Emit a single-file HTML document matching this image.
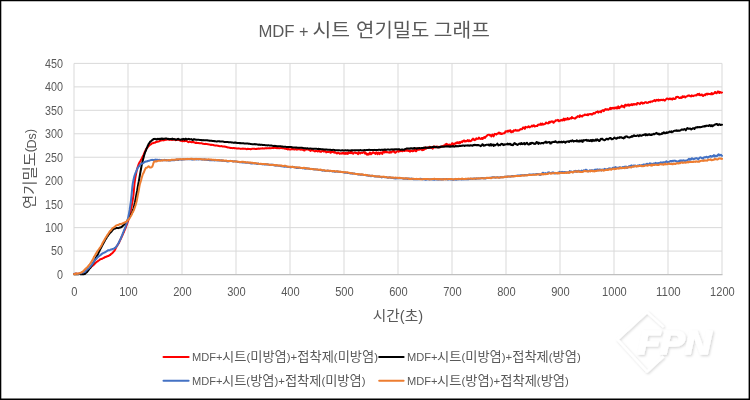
<!DOCTYPE html>
<html lang="ko">
<head>
<meta charset="utf-8">
<title>MDF + 시트 연기밀도 그래프</title>
<style>html,body{margin:0;padding:0;background:#fff;}body{width:750px;height:400px;overflow:hidden;}svg{display:block;will-change:transform;}</style>
</head>
<body>
<svg width="750" height="400" viewBox="0 0 750 400" font-family="'Liberation Sans', 'Noto Sans CJK KR', sans-serif" fill="#595959">
<defs><filter id="ws" x="-20%" y="-20%" width="140%" height="140%"><feDropShadow dx="1.2" dy="1.3" stdDeviation="1.15" flood-color="#000" flood-opacity="0.17"/></filter></defs>
<rect x="0" y="0" width="750" height="400" fill="#fff"/>
<path d="M74.0 251.09H722.0M74.0 227.63H722.0M74.0 204.17H722.0M74.0 180.71H722.0M74.0 157.24H722.0M74.0 133.78H722.0M74.0 110.32H722.0M74.0 86.86H722.0M74.0 63.40H722.0M74.00 63.4V274.55M128.00 63.4V274.55M182.00 63.4V274.55M236.00 63.4V274.55M290.00 63.4V274.55M344.00 63.4V274.55M398.00 63.4V274.55M452.00 63.4V274.55M506.00 63.4V274.55M560.00 63.4V274.55M614.00 63.4V274.55M668.00 63.4V274.55M722.00 63.4V274.55" stroke="#d9d9d9" stroke-width="1" fill="none"/>
<path d="M73.5 274.55H722.5" stroke="#bfbfbf" stroke-width="1.3" fill="none"/>
<g filter="url(#ws)" fill="#fff" stroke="#fff" stroke-linejoin="round"><path d="M663.5 327 L647 312.2 L617.4 339.4 L647 371.6 L663.5 356.5" fill="none" stroke-width="2.3"/><text x="637.5" y="354.2" font-size="34" font-weight="bold" font-style="italic" stroke-width="1.5" textLength="74" lengthAdjust="spacingAndGlyphs">FPN</text></g>
<text x="63" y="278.9" font-size="12" text-anchor="end" textLength="6.0" lengthAdjust="spacingAndGlyphs">0</text>
<text x="63" y="255.4" font-size="12" text-anchor="end" textLength="12.0" lengthAdjust="spacingAndGlyphs">50</text>
<text x="63" y="231.9" font-size="12" text-anchor="end" textLength="18.0" lengthAdjust="spacingAndGlyphs">100</text>
<text x="63" y="208.5" font-size="12" text-anchor="end" textLength="18.0" lengthAdjust="spacingAndGlyphs">150</text>
<text x="63" y="185.0" font-size="12" text-anchor="end" textLength="18.0" lengthAdjust="spacingAndGlyphs">200</text>
<text x="63" y="161.5" font-size="12" text-anchor="end" textLength="18.0" lengthAdjust="spacingAndGlyphs">250</text>
<text x="63" y="138.1" font-size="12" text-anchor="end" textLength="18.0" lengthAdjust="spacingAndGlyphs">300</text>
<text x="63" y="114.6" font-size="12" text-anchor="end" textLength="18.0" lengthAdjust="spacingAndGlyphs">350</text>
<text x="63" y="91.2" font-size="12" text-anchor="end" textLength="18.0" lengthAdjust="spacingAndGlyphs">400</text>
<text x="63" y="67.7" font-size="12" text-anchor="end" textLength="18.0" lengthAdjust="spacingAndGlyphs">450</text>
<text x="74.4" y="295.8" font-size="12" text-anchor="middle" textLength="6.2" lengthAdjust="spacingAndGlyphs">0</text>
<text x="128.4" y="295.8" font-size="12" text-anchor="middle" textLength="18.5" lengthAdjust="spacingAndGlyphs">100</text>
<text x="182.4" y="295.8" font-size="12" text-anchor="middle" textLength="18.5" lengthAdjust="spacingAndGlyphs">200</text>
<text x="236.4" y="295.8" font-size="12" text-anchor="middle" textLength="18.5" lengthAdjust="spacingAndGlyphs">300</text>
<text x="290.4" y="295.8" font-size="12" text-anchor="middle" textLength="18.5" lengthAdjust="spacingAndGlyphs">400</text>
<text x="344.4" y="295.8" font-size="12" text-anchor="middle" textLength="18.5" lengthAdjust="spacingAndGlyphs">500</text>
<text x="398.4" y="295.8" font-size="12" text-anchor="middle" textLength="18.5" lengthAdjust="spacingAndGlyphs">600</text>
<text x="452.4" y="295.8" font-size="12" text-anchor="middle" textLength="18.5" lengthAdjust="spacingAndGlyphs">700</text>
<text x="506.4" y="295.8" font-size="12" text-anchor="middle" textLength="18.5" lengthAdjust="spacingAndGlyphs">800</text>
<text x="560.4" y="295.8" font-size="12" text-anchor="middle" textLength="18.5" lengthAdjust="spacingAndGlyphs">900</text>
<text x="614.4" y="295.8" font-size="12" text-anchor="middle" textLength="24.6" lengthAdjust="spacingAndGlyphs">1000</text>
<text x="668.4" y="295.8" font-size="12" text-anchor="middle" textLength="24.6" lengthAdjust="spacingAndGlyphs">1100</text>
<text x="722.4" y="295.8" font-size="12" text-anchor="middle" textLength="24.6" lengthAdjust="spacingAndGlyphs">1200</text>
<text y="37.3"><tspan x="258.38" y="37.30" font-size="17.3" textLength="36.18" lengthAdjust="spacingAndGlyphs">MDF</tspan><tspan x="299.01" y="37.30" font-size="17.3" textLength="9.51" lengthAdjust="spacingAndGlyphs">+</tspan><tspan x="312.53" y="37.30" font-size="19" textLength="37.59" lengthAdjust="spacingAndGlyphs">시트</tspan><tspan x="356.04" y="37.30" font-size="19" textLength="73.40" lengthAdjust="spacingAndGlyphs">연기밀도</tspan><tspan x="433.83" y="37.30" font-size="19" textLength="56.07" lengthAdjust="spacingAndGlyphs">그래프</tspan></text>
<text y="320.6"><tspan x="372.82" y="320.60" font-size="14.3" textLength="50.33" lengthAdjust="spacingAndGlyphs">시간(초)</tspan></text>
<text y="0" transform="translate(35.7 207.6) rotate(-90)"><tspan x="-1.29" y="-1.00" font-size="14.3" textLength="56.69" lengthAdjust="spacingAndGlyphs">연기밀도</tspan><tspan x="55.17" y="-1.70" font-size="13" textLength="4.83" lengthAdjust="spacingAndGlyphs">(</tspan><tspan x="59.02" y="0.10" font-size="13.2" textLength="15.38" lengthAdjust="spacingAndGlyphs">Ds</tspan><tspan x="74.52" y="-1.70" font-size="13" textLength="3.97" lengthAdjust="spacingAndGlyphs">)</tspan></text>
<text y="360.5"><tspan x="191.91" y="360.50" font-size="10.6" textLength="30.53" lengthAdjust="spacingAndGlyphs">MDF+</tspan><tspan x="222.08" y="360.50" font-size="13" textLength="155.95" lengthAdjust="spacingAndGlyphs">시트<tspan font-size="11.2">(</tspan>미방염<tspan font-size="11.2">)+</tspan>접착제<tspan font-size="11.2">(</tspan>미방염<tspan font-size="11.2">)</tspan></tspan></text>
<text y="360.5"><tspan x="406.94" y="360.50" font-size="10.6" textLength="30.53" lengthAdjust="spacingAndGlyphs">MDF+</tspan><tspan x="437.11" y="360.50" font-size="13" textLength="143.65" lengthAdjust="spacingAndGlyphs">시트<tspan font-size="11.2">(</tspan>미방염<tspan font-size="11.2">)+</tspan>접착제<tspan font-size="11.2">(</tspan>방염<tspan font-size="11.2">)</tspan></tspan></text>
<text y="384.5"><tspan x="191.91" y="384.50" font-size="10.6" textLength="30.53" lengthAdjust="spacingAndGlyphs">MDF+</tspan><tspan x="222.08" y="384.50" font-size="13" textLength="143.37" lengthAdjust="spacingAndGlyphs">시트<tspan font-size="11.2">(</tspan>방염<tspan font-size="11.2">)+</tspan>접착제<tspan font-size="11.2">(</tspan>미방염<tspan font-size="11.2">)</tspan></tspan></text>
<text y="384.5"><tspan x="406.94" y="384.50" font-size="10.6" textLength="30.53" lengthAdjust="spacingAndGlyphs">MDF+</tspan><tspan x="437.11" y="384.50" font-size="13" textLength="131.77" lengthAdjust="spacingAndGlyphs">시트<tspan font-size="11.2">(</tspan>방염<tspan font-size="11.2">)+</tspan>접착제<tspan font-size="11.2">(</tspan>방염<tspan font-size="11.2">)</tspan></tspan></text>
<path d="M74.00 274.00L74.54 273.95L75.08 273.90L75.62 273.60L76.16 273.77L76.70 273.83L77.24 273.81L77.78 273.94L78.32 274.00L78.86 273.78L79.40 273.70L79.94 273.72L80.48 273.90L81.02 273.95L81.56 273.66L82.10 273.54L82.64 273.71L83.18 273.79L83.72 273.40L84.26 272.92L84.80 272.76L85.34 272.22L85.88 271.87L86.42 271.57L86.96 271.01L87.50 270.38L88.04 269.91L88.58 269.21L89.12 268.70L89.66 268.17L90.20 267.76L90.74 267.28L91.28 266.84L91.82 266.34L92.36 265.91L92.90 265.43L93.44 264.96L93.98 264.65L94.52 263.76L95.06 263.55L95.60 262.94L96.14 262.26L96.68 261.88L97.22 261.53L97.76 261.32L98.30 260.70L98.84 260.43L99.38 260.11L99.92 259.50L100.46 259.14L101.00 259.09L101.54 258.93L102.08 258.77L102.62 258.45L103.16 258.15L103.70 257.83L104.24 257.72L104.78 257.24L105.32 257.02L105.86 256.91L106.40 256.43L106.94 256.57L107.48 256.16L108.02 255.94L108.56 256.05L109.10 255.45L109.64 255.04L110.18 255.00L110.72 254.33L111.26 253.89L111.80 253.54L112.34 253.05L112.88 252.50L113.42 251.85L113.96 251.32L114.50 250.60L115.04 249.73L115.58 248.62L116.12 247.59L116.66 246.42L117.20 245.81L117.74 244.61L118.28 243.95L118.82 243.24L119.36 241.86L119.90 240.68L120.44 239.55L120.98 238.60L121.52 237.24L122.06 236.08L122.60 234.81L123.14 233.58L123.68 232.59L124.22 231.08L124.76 229.84L125.30 228.57L125.84 227.32L126.38 225.60L126.92 224.35L127.46 222.78L128.00 221.23L128.54 219.41L129.08 217.26L129.62 215.29L130.16 213.38L130.70 210.89L131.24 208.14L131.78 205.51L132.32 202.61L132.86 199.21L133.40 195.62L133.94 189.90L134.48 183.98L135.02 179.83L135.56 176.52L136.10 173.69L136.64 171.13L137.18 168.79L137.72 166.97L138.26 165.37L138.80 163.75L139.34 162.75L139.88 161.79L140.42 161.13L140.96 159.86L141.50 158.93L142.04 157.84L142.58 156.74L143.12 155.85L143.66 154.56L144.20 153.18L144.74 152.02L145.28 151.00L145.82 149.73L146.36 148.81L146.90 148.33L147.44 147.71L147.98 146.96L148.52 146.25L149.06 145.71L149.60 144.99L150.14 144.84L150.68 144.48L151.22 144.10L151.76 143.50L152.30 143.21L152.84 143.21L153.38 143.05L153.92 142.73L154.46 142.68L155.00 142.66L155.54 142.25L156.08 142.01L156.62 141.76L157.16 141.51L157.70 141.69L158.24 141.63L158.78 141.48L159.32 141.01L159.86 140.72L160.40 140.69L160.94 140.50L161.48 140.43L162.02 140.15L162.56 140.21L163.10 140.38L163.64 140.35L164.18 140.26L164.72 139.94L165.26 139.92L165.80 139.66L166.34 139.81L166.88 139.62L167.42 139.52L167.96 139.46L168.50 139.70L169.04 139.73L169.58 139.74L170.12 139.50L170.66 139.65L171.20 139.42L171.74 139.91L172.28 139.83L172.82 139.87L173.36 139.85L173.90 139.57L174.44 139.50L174.98 139.75L175.52 140.18L176.06 139.88L176.60 139.85L177.14 139.99L177.68 139.76L178.22 139.71L178.76 139.95L179.30 140.17L179.84 140.25L180.38 140.70L180.92 140.62L181.46 140.73L182.00 141.07L182.54 141.28L183.08 140.80L183.62 140.86L184.16 141.24L184.70 140.97L185.24 140.98L185.78 140.97L186.32 141.00L186.86 141.10L187.40 141.46L187.94 141.88L188.48 142.16L189.02 142.04L189.56 141.63L190.10 141.86L190.64 141.95L191.18 142.16L191.72 142.20L192.26 141.93L192.80 142.28L193.34 141.99L193.88 142.16L194.42 142.48L194.96 142.66L195.50 143.02L196.04 142.44L196.58 142.75L197.12 142.99L197.66 142.94L198.20 143.14L198.74 142.93L199.28 143.21L199.82 143.35L200.36 143.20L200.90 143.23L201.44 143.34L201.98 143.37L202.52 143.63L203.06 143.68L203.60 143.88L204.14 143.99L204.68 143.94L205.22 143.92L205.76 143.86L206.30 143.89L206.84 143.95L207.38 144.15L207.92 144.14L208.46 144.29L209.00 144.41L209.54 144.42L210.08 144.51L210.62 144.80L211.16 144.99L211.70 144.82L212.24 144.86L212.78 144.89L213.32 144.97L213.86 145.27L214.40 145.34L214.94 145.49L215.48 145.65L216.02 145.51L216.56 145.51L217.10 145.59L217.64 145.79L218.18 145.78L218.72 145.92L219.26 146.08L219.80 146.20L220.34 146.21L220.88 146.11L221.42 146.01L221.96 146.35L222.50 146.47L223.04 146.41L223.58 146.48L224.12 146.57L224.66 146.52L225.20 146.78L225.74 146.83L226.28 146.96L226.82 147.20L227.36 147.26L227.90 147.42L228.44 147.52L228.98 147.57L229.52 147.64L230.06 147.95L230.60 147.87L231.14 148.11L231.68 147.94L232.22 148.11L232.76 148.15L233.30 148.09L233.84 147.90L234.38 148.30L234.92 148.19L235.46 148.18L236.00 148.34L236.54 148.41L237.08 148.50L237.62 148.49L238.16 148.34L238.70 148.59L239.24 148.50L239.78 148.62L240.32 148.74L240.86 148.88L241.40 148.79L241.94 148.75L242.48 148.75L243.02 148.57L243.56 148.64L244.10 148.65L244.64 148.64L245.18 148.82L245.72 148.85L246.26 149.11L246.80 149.22L247.34 148.85L247.88 148.94L248.42 148.85L248.96 149.00L249.50 149.02L250.04 149.13L250.58 149.09L251.12 149.13L251.66 149.01L252.20 148.67L252.74 148.67L253.28 148.70L253.82 148.75L254.36 148.69L254.90 148.99L255.44 148.88L255.98 149.00L256.52 148.83L257.06 148.99L257.60 148.68L258.14 148.75L258.68 148.53L259.22 148.63L259.76 148.80L260.30 148.46L260.84 148.39L261.38 148.48L261.92 148.45L262.46 148.28L263.00 148.50L263.54 148.45L264.08 148.57L264.62 148.50L265.16 148.26L265.70 148.23L266.24 148.44L266.78 148.17L267.32 148.15L267.86 148.26L268.40 148.35L268.94 148.35L269.48 148.06L270.02 148.35L270.56 148.20L271.10 148.14L271.64 148.10L272.18 148.04L272.72 147.92L273.26 147.94L273.80 148.14L274.34 147.90L274.88 147.70L275.42 147.91L275.96 148.00L276.50 148.09L277.04 148.27L277.58 148.05L278.12 148.08L278.66 148.14L279.20 148.28L279.74 148.34L280.28 148.15L280.82 148.02L281.36 148.12L281.90 148.03L282.44 148.35L282.98 148.34L283.52 148.36L284.06 148.33L284.60 148.65L285.14 148.85L285.68 148.60L286.22 148.89L286.76 148.79L287.30 149.03L287.84 149.43L288.38 149.05L288.92 149.19L289.46 149.26L290.00 149.56L290.54 149.51L291.08 149.30L291.62 148.98L292.16 149.20L292.70 148.82L293.24 149.31L293.78 149.33L294.32 149.54L294.86 149.26L295.40 149.04L295.94 148.93L296.48 149.65L297.02 149.51L297.56 149.46L298.10 148.87L298.64 149.28L299.18 148.73L299.72 149.55L300.26 149.58L300.80 149.71L301.34 149.25L301.88 149.18L302.42 149.81L302.96 149.81L303.50 150.08L304.04 150.53L304.58 150.53L305.12 149.59L305.66 149.53L306.20 149.46L306.74 149.54L307.28 149.31L307.82 149.34L308.36 149.46L308.90 149.74L309.44 150.30L309.98 150.26L310.52 150.92L311.06 150.02L311.60 149.80L312.14 150.33L312.68 150.40L313.22 150.18L313.76 150.76L314.30 151.17L314.84 151.45L315.38 150.96L315.92 150.91L316.46 151.00L317.00 151.00L317.54 151.38L318.08 151.01L318.62 151.19L319.16 150.32L319.70 151.07L320.24 151.76L320.78 151.48L321.32 151.77L321.86 150.92L322.40 151.05L322.94 150.69L323.48 151.25L324.02 151.60L324.56 151.08L325.10 151.06L325.64 151.18L326.18 152.39L326.72 152.02L327.26 151.95L327.80 152.03L328.34 152.07L328.88 151.91L329.42 151.46L329.96 151.52L330.50 152.72L331.04 152.56L331.58 152.11L332.12 151.30L332.66 151.80L333.20 152.11L333.74 151.84L334.28 152.74L334.82 152.22L335.36 152.29L335.90 153.00L336.44 152.95L336.98 153.54L337.52 152.96L338.06 152.60L338.60 153.04L339.14 153.10L339.68 153.77L340.22 153.60L340.76 153.27L341.30 153.44L341.84 153.67L342.38 152.65L342.92 152.83L343.46 152.80L344.00 153.78L344.54 153.15L345.08 153.86L345.62 152.69L346.16 152.93L346.70 153.76L347.24 153.28L347.78 153.97L348.32 152.23L348.86 152.77L349.40 153.09L349.94 153.04L350.48 152.13L351.02 153.11L351.56 151.62L352.10 153.05L352.64 153.26L353.18 153.80L353.72 153.24L354.26 152.43L354.80 152.44L355.34 152.47L355.88 153.17L356.42 152.89L356.96 153.23L357.50 153.42L358.04 154.11L358.58 152.22L359.12 152.39L359.66 153.17L360.20 153.52L360.74 152.88L361.28 152.78L361.82 152.85L362.36 153.02L362.90 152.66L363.44 152.44L363.98 152.04L364.52 152.33L365.06 153.60L365.60 152.67L366.14 153.48L366.68 154.48L367.22 153.81L367.76 154.58L368.30 153.78L368.84 154.44L369.38 153.63L369.92 152.53L370.46 153.03L371.00 154.24L371.54 153.19L372.08 153.40L372.62 152.54L373.16 152.21L373.70 152.92L374.24 152.81L374.78 153.23L375.32 153.87L375.86 152.56L376.40 152.27L376.94 152.59L377.48 154.18L378.02 153.18L378.56 152.61L379.10 152.92L379.64 154.12L380.18 152.90L380.72 152.51L381.26 152.54L381.80 152.98L382.34 153.97L382.88 152.34L383.42 151.26L383.96 151.92L384.50 152.44L385.04 150.87L385.58 151.17L386.12 152.29L386.66 151.82L387.20 152.22L387.74 152.18L388.28 152.44L388.82 152.39L389.36 152.23L389.90 152.76L390.44 151.82L390.98 151.80L391.52 152.42L392.06 151.58L392.60 151.30L393.14 150.90L393.68 150.58L394.22 152.32L394.76 152.07L395.30 152.78L395.84 152.44L396.38 151.81L396.92 151.27L397.46 151.36L398.00 151.19L398.54 151.70L399.08 150.77L399.62 151.00L400.16 151.27L400.70 150.94L401.24 150.76L401.78 151.17L402.32 151.35L402.86 150.98L403.40 150.86L403.94 150.44L404.48 150.95L405.02 150.73L405.56 149.68L406.10 150.00L406.64 150.72L407.18 150.82L407.72 150.09L408.26 150.79L408.80 151.00L409.34 151.08L409.88 151.69L410.42 150.75L410.96 150.91L411.50 150.41L412.04 150.96L412.58 151.31L413.12 151.01L413.66 151.02L414.20 150.00L414.74 150.44L415.28 149.45L415.82 151.14L416.36 151.22L416.90 149.51L417.44 148.24L417.98 149.82L418.52 149.23L419.06 149.83L419.60 148.89L420.14 149.32L420.68 149.01L421.22 149.63L421.76 149.27L422.30 150.23L422.84 149.18L423.38 149.96L423.92 149.43L424.46 149.48L425.00 148.09L425.54 147.30L426.08 148.69L426.62 147.80L427.16 147.90L427.70 147.90L428.24 147.47L428.78 147.93L429.32 147.04L429.86 146.72L430.40 147.88L430.94 147.23L431.48 147.88L432.02 148.07L432.56 148.66L433.10 148.19L433.64 146.46L434.18 146.40L434.72 146.49L435.26 147.54L435.80 147.41L436.34 146.78L436.88 147.06L437.42 146.63L437.96 146.98L438.50 146.85L439.04 147.36L439.58 147.05L440.12 147.16L440.66 146.64L441.20 146.75L441.74 146.27L442.28 146.44L442.82 146.23L443.36 145.88L443.90 145.50L444.44 145.35L444.98 145.63L445.52 144.17L446.06 145.40L446.60 143.89L447.14 144.36L447.68 144.43L448.22 144.98L448.76 144.89L449.30 144.63L449.84 144.53L450.38 144.89L450.92 145.58L451.46 145.01L452.00 143.27L452.54 143.33L453.08 143.76L453.62 145.04L454.16 143.97L454.70 143.44L455.24 143.66L455.78 143.57L456.32 142.55L456.86 143.30L457.40 142.32L457.94 142.41L458.48 143.27L459.02 142.13L459.56 142.11L460.10 143.15L460.64 142.49L461.18 141.70L461.72 141.55L462.26 142.20L462.80 141.11L463.34 141.08L463.88 140.55L464.42 140.41L464.96 141.65L465.50 141.39L466.04 141.01L466.58 141.26L467.12 140.68L467.66 140.09L468.20 141.06L468.74 141.29L469.28 140.38L469.82 140.76L470.36 141.29L470.90 140.93L471.44 140.71L471.98 139.58L472.52 139.62L473.06 138.61L473.60 139.75L474.14 139.48L474.68 140.12L475.22 139.18L475.76 139.60L476.30 138.35L476.84 138.38L477.38 138.85L477.92 138.89L478.46 138.61L479.00 137.53L479.54 138.62L480.08 138.68L480.62 138.90L481.16 138.92L481.70 138.02L482.24 137.98L482.78 138.89L483.32 137.66L483.86 137.61L484.40 136.98L484.94 137.92L485.48 137.39L486.02 136.40L486.56 136.13L487.10 135.49L487.64 135.02L488.18 134.89L488.72 134.77L489.26 134.73L489.80 135.39L490.34 135.08L490.88 135.45L491.42 136.42L491.96 135.14L492.50 134.48L493.04 135.34L493.58 136.39L494.12 135.04L494.66 133.89L495.20 134.09L495.74 134.05L496.28 134.59L496.82 133.77L497.36 133.78L497.90 133.69L498.44 132.88L498.98 132.44L499.52 133.31L500.06 133.69L500.60 133.04L501.14 134.01L501.68 134.02L502.22 133.70L502.76 133.56L503.30 133.29L503.84 133.31L504.38 133.33L504.92 132.82L505.46 131.34L506.00 131.66L506.54 131.36L507.08 130.96L507.62 131.71L508.16 130.65L508.70 131.57L509.24 131.08L509.78 130.47L510.32 130.32L510.86 131.99L511.40 132.19L511.94 131.22L512.48 131.47L513.02 131.92L513.56 130.56L514.10 130.21L514.64 130.66L515.18 130.51L515.72 129.93L516.26 130.74L516.80 130.40L517.34 130.34L517.88 130.83L518.42 130.38L518.96 130.59L519.50 130.16L520.04 129.37L520.58 129.11L521.12 129.36L521.66 129.28L522.20 129.02L522.74 127.79L523.28 127.40L523.82 127.63L524.36 128.23L524.90 128.85L525.44 126.89L525.98 127.22L526.52 127.13L527.06 127.22L527.60 127.39L528.14 126.80L528.68 126.21L529.22 127.20L529.76 127.44L530.30 126.83L530.84 126.66L531.38 126.20L531.92 125.53L532.46 126.33L533.00 125.88L533.54 125.37L534.08 125.37L534.62 126.57L535.16 126.38L535.70 126.11L536.24 125.85L536.78 126.11L537.32 126.09L537.86 124.87L538.40 124.86L538.94 124.56L539.48 124.85L540.02 124.77L540.56 123.57L541.10 124.75L541.64 124.72L542.18 123.52L542.72 124.54L543.26 124.36L543.80 124.42L544.34 124.13L544.88 124.01L545.42 123.52L545.96 122.58L546.50 122.69L547.04 123.13L547.58 123.18L548.12 123.49L548.66 123.14L549.20 121.71L549.74 122.68L550.28 122.19L550.82 121.60L551.36 121.85L551.90 121.31L552.44 121.98L552.98 121.49L553.52 122.82L554.06 122.12L554.60 121.57L555.14 121.21L555.68 120.26L556.22 120.31L556.76 120.39L557.30 120.60L557.84 119.81L558.38 120.32L558.92 121.29L559.46 120.70L560.00 120.58L560.54 120.73L561.08 120.04L561.62 119.87L562.16 120.51L562.70 120.30L563.24 119.34L563.78 118.53L564.32 120.39L564.86 120.12L565.40 118.79L565.94 119.10L566.48 119.47L567.02 119.25L567.56 117.96L568.10 119.39L568.64 119.28L569.18 118.72L569.72 118.89L570.26 118.38L570.80 118.03L571.34 118.49L571.88 117.01L572.42 117.96L572.96 117.98L573.50 118.12L574.04 118.20L574.58 118.54L575.12 118.56L575.66 118.19L576.20 117.24L576.74 117.35L577.28 116.68L577.82 116.04L578.36 116.49L578.90 116.57L579.44 117.01L579.98 115.27L580.52 115.96L581.06 116.26L581.60 116.01L582.14 116.61L582.68 115.48L583.22 115.60L583.76 115.18L584.30 115.14L584.84 114.51L585.38 114.64L585.92 115.08L586.46 114.91L587.00 114.89L587.54 114.20L588.08 115.14L588.62 114.22L589.16 114.14L589.70 114.35L590.24 113.95L590.78 114.23L591.32 113.97L591.86 114.64L592.40 114.22L592.94 113.88L593.48 112.97L594.02 113.21L594.56 113.55L595.10 113.30L595.64 112.36L596.18 112.07L596.72 112.05L597.26 112.10L597.80 111.26L598.34 112.64L598.88 112.07L599.42 111.86L599.96 111.38L600.50 111.31L601.04 112.30L601.58 111.07L602.12 110.68L602.66 110.14L603.20 110.09L603.74 111.15L604.28 110.35L604.82 110.00L605.36 109.01L605.90 109.30L606.44 109.68L606.98 109.37L607.52 109.21L608.06 109.73L608.60 109.73L609.14 109.31L609.68 108.66L610.22 107.89L610.76 109.25L611.30 107.99L611.84 108.58L612.38 108.31L612.92 107.82L613.46 108.43L614.00 107.74L614.54 108.48L615.08 107.48L615.62 107.81L616.16 108.34L616.70 107.27L617.24 108.44L617.78 108.21L618.32 106.34L618.86 107.45L619.40 108.18L619.94 107.25L620.48 106.81L621.02 106.87L621.56 105.58L622.10 106.09L622.64 106.70L623.18 106.09L623.72 106.69L624.26 107.38L624.80 105.52L625.34 104.65L625.88 104.82L626.42 105.59L626.96 105.74L627.50 105.04L628.04 104.54L628.58 104.49L629.12 105.77L629.66 104.82L630.20 104.54L630.74 105.22L631.28 104.79L631.82 104.14L632.36 105.15L632.90 104.94L633.44 104.22L633.98 104.02L634.52 104.61L635.06 104.10L635.60 104.16L636.14 104.50L636.68 104.65L637.22 103.09L637.76 103.09L638.30 103.13L638.84 103.34L639.38 103.75L639.92 104.11L640.46 103.32L641.00 102.55L641.54 102.88L642.08 102.54L642.62 103.63L643.16 103.31L643.70 102.95L644.24 103.26L644.78 102.43L645.32 102.19L645.86 102.12L646.40 102.50L646.94 102.99L647.48 102.88L648.02 102.76L648.56 102.11L649.10 102.11L649.64 101.73L650.18 102.28L650.72 101.49L651.26 101.40L651.80 101.48L652.34 101.78L652.88 101.03L653.42 100.92L653.96 100.50L654.50 99.98L655.04 101.05L655.58 101.14L656.12 100.05L656.66 99.80L657.20 100.50L657.74 100.13L658.28 99.67L658.82 100.70L659.36 100.15L659.90 99.93L660.44 100.30L660.98 99.72L661.52 99.83L662.06 99.91L662.60 100.23L663.14 99.50L663.68 100.15L664.22 99.98L664.76 100.68L665.30 100.07L665.84 99.34L666.38 98.97L666.92 98.43L667.46 98.77L668.00 98.84L668.54 99.37L669.08 99.11L669.62 98.44L670.16 99.14L670.70 98.60L671.24 98.70L671.78 99.37L672.32 99.52L672.86 98.44L673.40 98.25L673.94 98.93L674.48 99.00L675.02 98.74L675.56 98.78L676.10 97.06L676.64 97.28L677.18 96.70L677.72 96.85L678.26 97.01L678.80 97.52L679.34 98.10L679.88 98.10L680.42 97.78L680.96 97.24L681.50 97.87L682.04 97.55L682.58 96.23L683.12 96.55L683.66 96.97L684.20 96.30L684.74 96.62L685.28 97.45L685.82 96.80L686.36 96.58L686.90 96.45L687.44 95.84L687.98 95.81L688.52 95.46L689.06 95.66L689.60 95.44L690.14 96.28L690.68 96.03L691.22 96.42L691.76 95.39L692.30 95.58L692.84 95.97L693.38 96.18L693.92 95.50L694.46 95.46L695.00 95.52L695.54 95.27L696.08 95.08L696.62 95.49L697.16 94.69L697.70 93.94L698.24 94.32L698.78 94.89L699.32 93.76L699.86 95.13L700.40 95.05L700.94 95.25L701.48 94.52L702.02 94.60L702.56 95.64L703.10 96.07L703.64 95.59L704.18 94.81L704.72 94.53L705.26 95.16L705.80 94.28L706.34 93.72L706.88 93.88L707.42 94.50L707.96 93.63L708.50 94.00L709.04 94.14L709.58 94.04L710.12 93.79L710.66 94.25L711.20 94.22L711.74 93.03L712.28 94.17L712.82 94.01L713.36 93.82L713.90 93.31L714.44 93.09L714.98 91.92L715.52 92.32L716.06 93.02L716.60 93.31L717.14 92.67L717.68 91.58L718.22 91.51L718.76 91.95L719.30 93.01L719.84 91.82L720.38 92.17L720.92 92.61L721.46 92.78L722.00 92.43" stroke="#ff0000" stroke-width="2" fill="none" stroke-linejoin="round" stroke-linecap="round"/>
<path d="M74.00 274.20L74.54 273.96L75.08 274.27L75.62 274.19L76.16 274.11L76.70 273.99L77.24 274.24L77.78 274.02L78.32 274.20L78.86 274.08L79.40 274.12L79.94 274.08L80.48 274.19L81.02 274.26L81.56 273.99L82.10 274.20L82.64 274.23L83.18 274.28L83.72 274.37L84.26 273.89L84.80 274.06L85.34 273.36L85.88 272.91L86.42 272.53L86.96 272.12L87.50 271.47L88.04 270.74L88.58 270.03L89.12 269.04L89.66 268.39L90.20 268.13L90.74 266.79L91.28 266.09L91.82 265.31L92.36 264.33L92.90 263.49L93.44 262.61L93.98 261.60L94.52 260.62L95.06 259.44L95.60 258.61L96.14 257.46L96.68 256.29L97.22 255.72L97.76 254.47L98.30 253.36L98.84 252.02L99.38 251.18L99.92 249.94L100.46 248.81L101.00 247.92L101.54 246.89L102.08 245.64L102.62 244.75L103.16 243.81L103.70 242.78L104.24 241.66L104.78 240.87L105.32 239.69L105.86 238.97L106.40 238.10L106.94 237.04L107.48 236.14L108.02 235.88L108.56 234.63L109.10 234.03L109.64 233.34L110.18 232.83L110.72 232.24L111.26 231.72L111.80 231.12L112.34 230.42L112.88 229.60L113.42 229.17L113.96 228.93L114.50 228.69L115.04 228.62L115.58 228.34L116.12 228.01L116.66 227.93L117.20 228.00L117.74 228.11L118.28 228.13L118.82 228.06L119.36 227.65L119.90 227.51L120.44 227.50L120.98 227.30L121.52 227.10L122.06 226.46L122.60 226.22L123.14 225.34L123.68 224.99L124.22 224.65L124.76 224.13L125.30 223.78L125.84 223.05L126.38 222.31L126.92 221.60L127.46 220.53L128.00 219.92L128.54 218.78L129.08 217.95L129.62 217.02L130.16 216.00L130.70 215.08L131.24 214.12L131.78 212.91L132.32 212.08L132.86 210.37L133.40 208.75L133.94 206.88L134.48 204.54L135.02 202.15L135.56 199.05L136.10 196.12L136.64 193.20L137.18 190.41L137.72 187.13L138.26 184.09L138.80 181.39L139.34 178.31L139.88 175.21L140.42 172.06L140.96 169.26L141.50 166.09L142.04 163.61L142.58 161.38L143.12 159.35L143.66 157.34L144.20 155.08L144.74 153.49L145.28 151.78L145.82 150.83L146.36 149.21L146.90 147.99L147.44 146.51L147.98 145.28L148.52 144.09L149.06 143.36L149.60 142.73L150.14 141.69L150.68 141.34L151.22 140.95L151.76 140.68L152.30 139.85L152.84 139.87L153.38 139.06L153.92 139.07L154.46 138.90L155.00 138.85L155.54 139.19L156.08 139.17L156.62 139.47L157.16 139.24L157.70 138.80L158.24 139.11L158.78 138.99L159.32 138.73L159.86 139.08L160.40 139.27L160.94 138.56L161.48 138.54L162.02 138.94L162.56 138.60L163.10 139.10L163.64 138.84L164.18 138.87L164.72 138.82L165.26 138.46L165.80 138.55L166.34 138.46L166.88 138.50L167.42 138.94L167.96 139.03L168.50 138.85L169.04 138.92L169.58 139.30L170.12 139.07L170.66 138.88L171.20 139.12L171.74 138.89L172.28 138.63L172.82 139.36L173.36 138.90L173.90 139.06L174.44 139.22L174.98 139.11L175.52 139.67L176.06 139.78L176.60 139.68L177.14 139.04L177.68 139.29L178.22 138.83L178.76 139.26L179.30 139.54L179.84 139.53L180.38 139.79L180.92 139.61L181.46 139.23L182.00 139.19L182.54 139.58L183.08 138.86L183.62 139.19L184.16 138.92L184.70 139.77L185.24 139.10L185.78 138.64L186.32 139.22L186.86 139.49L187.40 139.16L187.94 139.16L188.48 138.83L189.02 139.00L189.56 139.36L190.10 139.37L190.64 139.28L191.18 139.10L191.72 139.51L192.26 139.91L192.80 140.01L193.34 139.33L193.88 139.46L194.42 139.26L194.96 139.33L195.50 139.57L196.04 139.81L196.58 139.79L197.12 139.76L197.66 139.72L198.20 139.83L198.74 139.69L199.28 139.87L199.82 139.99L200.36 139.89L200.90 140.10L201.44 140.22L201.98 140.10L202.52 140.19L203.06 140.13L203.60 140.11L204.14 140.26L204.68 140.31L205.22 140.20L205.76 140.16L206.30 140.32L206.84 140.26L207.38 140.28L207.92 140.40L208.46 140.46L209.00 140.59L209.54 140.83L210.08 140.65L210.62 140.86L211.16 140.71L211.70 140.80L212.24 140.96L212.78 141.12L213.32 140.92L213.86 141.15L214.40 141.11L214.94 141.14L215.48 141.21L216.02 141.39L216.56 141.44L217.10 141.46L217.64 141.35L218.18 141.31L218.72 141.18L219.26 141.22L219.80 141.49L220.34 141.38L220.88 141.39L221.42 141.49L221.96 141.54L222.50 141.57L223.04 141.60L223.58 141.67L224.12 141.92L224.66 141.99L225.20 141.99L225.74 141.94L226.28 142.01L226.82 142.09L227.36 142.04L227.90 142.02L228.44 142.16L228.98 142.16L229.52 142.17L230.06 142.27L230.60 142.34L231.14 142.31L231.68 142.56L232.22 142.57L232.76 142.56L233.30 142.66L233.84 142.79L234.38 142.75L234.92 142.51L235.46 142.56L236.00 142.70L236.54 142.81L237.08 143.01L237.62 143.03L238.16 143.00L238.70 143.11L239.24 143.04L239.78 143.19L240.32 143.04L240.86 143.29L241.40 143.26L241.94 143.37L242.48 143.34L243.02 143.24L243.56 143.33L244.10 143.42L244.64 143.50L245.18 143.55L245.72 143.62L246.26 143.58L246.80 143.49L247.34 143.58L247.88 143.56L248.42 143.68L248.96 143.75L249.50 143.84L250.04 143.85L250.58 143.98L251.12 144.06L251.66 144.13L252.20 144.16L252.74 144.23L253.28 144.30L253.82 144.27L254.36 144.08L254.90 144.16L255.44 144.42L255.98 144.22L256.52 144.36L257.06 144.38L257.60 144.60L258.14 144.63L258.68 144.60L259.22 144.64L259.76 144.52L260.30 144.83L260.84 144.88L261.38 144.77L261.92 144.78L262.46 144.91L263.00 144.88L263.54 144.88L264.08 145.05L264.62 145.07L265.16 145.15L265.70 145.25L266.24 145.17L266.78 145.37L267.32 145.43L267.86 145.30L268.40 145.24L268.94 145.37L269.48 145.47L270.02 145.44L270.56 145.50L271.10 145.55L271.64 145.59L272.18 145.70L272.72 145.88L273.26 145.98L273.80 145.86L274.34 145.88L274.88 145.86L275.42 145.93L275.96 145.95L276.50 146.15L277.04 146.23L277.58 146.14L278.12 146.31L278.66 146.22L279.20 146.28L279.74 146.37L280.28 146.35L280.82 146.33L281.36 146.45L281.90 146.56L282.44 146.56L282.98 146.75L283.52 146.76L284.06 146.68L284.60 146.78L285.14 146.76L285.68 146.84L286.22 146.92L286.76 146.96L287.30 147.10L287.84 147.06L288.38 147.09L288.92 147.06L289.46 146.95L290.00 147.01L290.54 147.12L291.08 146.96L291.62 147.16L292.16 147.28L292.70 147.42L293.24 147.44L293.78 147.53L294.32 147.50L294.86 147.46L295.40 147.56L295.94 147.48L296.48 147.68L297.02 147.56L297.56 147.77L298.10 147.70L298.64 147.70L299.18 147.66L299.72 147.74L300.26 147.83L300.80 147.75L301.34 147.70L301.88 147.86L302.42 147.82L302.96 148.01L303.50 148.17L304.04 148.11L304.58 148.37L305.12 148.31L305.66 148.18L306.20 148.41L306.74 148.41L307.28 148.33L307.82 148.36L308.36 148.53L308.90 148.64L309.44 148.56L309.98 148.45L310.52 148.47L311.06 148.61L311.60 148.63L312.14 148.69L312.68 148.73L313.22 148.88L313.76 148.79L314.30 148.79L314.84 148.63L315.38 148.75L315.92 148.68L316.46 148.75L317.00 148.88L317.54 148.89L318.08 148.96L318.62 148.82L319.16 148.93L319.70 149.05L320.24 149.11L320.78 149.20L321.32 149.15L321.86 149.28L322.40 149.24L322.94 149.27L323.48 149.42L324.02 149.54L324.56 149.57L325.10 149.42L325.64 149.45L326.18 149.46L326.72 149.54L327.26 149.74L327.80 149.80L328.34 149.64L328.88 149.72L329.42 149.77L329.96 149.73L330.50 149.76L331.04 149.93L331.58 149.90L332.12 149.91L332.66 149.90L333.20 149.75L333.74 149.87L334.28 150.06L334.82 150.26L335.36 150.31L335.90 150.17L336.44 150.17L336.98 150.14L337.52 150.21L338.06 150.14L338.60 150.23L339.14 150.32L339.68 150.37L340.22 150.38L340.76 150.45L341.30 150.38L341.84 150.33L342.38 150.35L342.92 150.34L343.46 150.41L344.00 150.50L344.54 150.44L345.08 150.27L345.62 150.19L346.16 150.35L346.70 150.43L347.24 150.47L347.78 150.19L348.32 150.38L348.86 150.61L349.40 150.50L349.94 150.42L350.48 150.50L351.02 150.36L351.56 150.27L352.10 150.43L352.64 150.30L353.18 150.38L353.72 150.31L354.26 150.29L354.80 150.22L355.34 150.31L355.88 150.30L356.42 150.28L356.96 150.24L357.50 150.20L358.04 150.33L358.58 150.35L359.12 150.37L359.66 150.18L360.20 150.23L360.74 150.06L361.28 150.27L361.82 150.38L362.36 150.38L362.90 150.30L363.44 150.26L363.98 150.17L364.52 150.06L365.06 150.16L365.60 150.21L366.14 150.10L366.68 149.95L367.22 149.95L367.76 149.96L368.30 149.93L368.84 149.81L369.38 149.79L369.92 149.90L370.46 150.11L371.00 149.90L371.54 149.94L372.08 149.92L372.62 149.96L373.16 149.95L373.70 150.03L374.24 149.97L374.78 149.87L375.32 149.90L375.86 149.90L376.40 149.96L376.94 149.96L377.48 149.95L378.02 149.89L378.56 149.84L379.10 149.81L379.64 149.83L380.18 149.93L380.72 149.99L381.26 149.82L381.80 149.78L382.34 149.77L382.88 149.93L383.42 149.75L383.96 149.75L384.50 149.53L385.04 149.66L385.58 149.60L386.12 149.65L386.66 149.75L387.20 149.59L387.74 149.45L388.28 149.58L388.82 149.55L389.36 149.64L389.90 149.76L390.44 149.58L390.98 149.46L391.52 149.44L392.06 149.35L392.60 149.38L393.14 149.56L393.68 149.46L394.22 149.34L394.76 149.46L395.30 149.51L395.84 149.29L396.38 149.37L396.92 149.35L397.46 149.41L398.00 149.32L398.54 149.30L399.08 149.22L399.62 149.48L400.16 149.65L400.70 149.65L401.24 149.63L401.78 149.44L402.32 149.67L402.86 149.55L403.40 149.80L403.94 149.77L404.48 149.74L405.02 149.04L405.56 148.87L406.10 148.80L406.64 148.47L407.18 148.56L407.72 148.59L408.26 148.40L408.80 148.82L409.34 148.61L409.88 148.69L410.42 148.25L410.96 148.39L411.50 148.28L412.04 148.21L412.58 148.65L413.12 148.64L413.66 148.23L414.20 148.05L414.74 148.42L415.28 148.14L415.82 148.15L416.36 148.57L416.90 148.70L417.44 148.41L417.98 148.24L418.52 148.22L419.06 148.08L419.60 148.06L420.14 148.36L420.68 148.25L421.22 148.15L421.76 147.97L422.30 148.18L422.84 147.88L423.38 147.98L423.92 147.59L424.46 147.60L425.00 147.76L425.54 147.57L426.08 147.70L426.62 147.70L427.16 147.53L427.70 147.75L428.24 147.72L428.78 147.51L429.32 147.56L429.86 147.76L430.40 147.33L430.94 147.06L431.48 147.49L432.02 147.16L432.56 147.10L433.10 146.68L433.64 146.90L434.18 147.15L434.72 146.79L435.26 147.10L435.80 146.78L436.34 146.86L436.88 147.30L437.42 147.60L437.96 147.25L438.50 147.47L439.04 147.03L439.58 147.24L440.12 146.64L440.66 146.91L441.20 146.82L441.74 146.55L442.28 146.64L442.82 146.62L443.36 146.65L443.90 146.86L444.44 146.56L444.98 146.41L445.52 146.51L446.06 146.40L446.60 146.47L447.14 146.16L447.68 146.55L448.22 146.23L448.76 146.58L449.30 146.70L449.84 146.32L450.38 146.50L450.92 146.76L451.46 146.42L452.00 146.44L452.54 146.07L453.08 146.42L453.62 146.33L454.16 146.65L454.70 146.60L455.24 146.32L455.78 145.94L456.32 146.23L456.86 146.41L457.40 146.09L457.94 146.28L458.48 146.21L459.02 145.98L459.56 145.73L460.10 145.79L460.64 146.08L461.18 145.69L461.72 145.72L462.26 145.72L462.80 145.55L463.34 145.39L463.88 145.68L464.42 145.97L464.96 145.73L465.50 145.38L466.04 145.52L466.58 145.47L467.12 145.59L467.66 145.27L468.20 145.62L468.74 145.41L469.28 145.73L469.82 145.56L470.36 145.35L470.90 145.32L471.44 145.50L471.98 145.56L472.52 145.71L473.06 145.16L473.60 145.08L474.14 145.15L474.68 144.72L475.22 144.91L475.76 145.24L476.30 145.08L476.84 145.17L477.38 145.06L477.92 145.14L478.46 144.91L479.00 145.35L479.54 145.50L480.08 145.51L480.62 146.13L481.16 145.81L481.70 145.40L482.24 144.37L482.78 144.34L483.32 145.07L483.86 145.79L484.40 145.19L484.94 145.52L485.48 144.97L486.02 144.90L486.56 144.71L487.10 144.73L487.64 144.68L488.18 145.00L488.72 144.48L489.26 145.48L489.80 145.51L490.34 144.37L490.88 144.02L491.42 145.51L491.96 144.72L492.50 145.07L493.04 144.52L493.58 145.98L494.12 144.70L494.66 145.53L495.20 145.33L495.74 144.86L496.28 144.66L496.82 144.29L497.36 143.64L497.90 144.45L498.44 145.45L498.98 144.89L499.52 144.97L500.06 145.19L500.60 144.23L501.14 144.21L501.68 143.70L502.22 144.46L502.76 144.03L503.30 144.95L503.84 145.12L504.38 144.35L504.92 144.61L505.46 144.61L506.00 144.23L506.54 144.24L507.08 144.35L507.62 143.53L508.16 144.50L508.70 144.10L509.24 143.84L509.78 144.35L510.32 143.85L510.86 144.78L511.40 144.98L511.94 144.56L512.48 144.98L513.02 145.22L513.56 144.47L514.10 143.45L514.64 143.11L515.18 143.34L515.72 144.11L516.26 144.37L516.80 144.17L517.34 145.01L517.88 144.38L518.42 144.49L518.96 143.70L519.50 143.55L520.04 143.79L520.58 144.31L521.12 143.04L521.66 144.08L522.20 143.45L522.74 144.11L523.28 143.84L523.82 143.17L524.36 143.08L524.90 144.35L525.44 143.91L525.98 143.55L526.52 142.91L527.06 142.79L527.60 143.79L528.14 144.34L528.68 144.56L529.22 144.30L529.76 143.64L530.30 143.02L530.84 143.87L531.38 143.38L531.92 142.75L532.46 142.91L533.00 143.06L533.54 143.68L534.08 143.36L534.62 143.89L535.16 143.88L535.70 143.57L536.24 142.28L536.78 142.00L537.32 142.50L537.86 143.12L538.40 143.85L538.94 142.61L539.48 143.12L540.02 143.30L540.56 143.55L541.10 143.29L541.64 142.98L542.18 142.90L542.72 143.03L543.26 143.42L543.80 142.68L544.34 142.48L544.88 142.23L545.42 142.50L545.96 141.57L546.50 142.72L547.04 142.71L547.58 142.16L548.12 142.26L548.66 142.22L549.20 142.06L549.74 142.21L550.28 143.49L550.82 143.54L551.36 142.25L551.90 142.36L552.44 142.46L552.98 141.80L553.52 141.89L554.06 141.90L554.60 142.02L555.14 141.34L555.68 141.21L556.22 142.09L556.76 142.37L557.30 142.53L557.84 142.57L558.38 141.78L558.92 142.17L559.46 141.88L560.00 142.31L560.54 141.96L561.08 142.17L561.62 141.61L562.16 142.35L562.70 141.99L563.24 142.00L563.78 141.44L564.32 142.21L564.86 142.33L565.40 142.66L565.94 141.67L566.48 141.89L567.02 141.68L567.56 141.46L568.10 141.67L568.64 141.37L569.18 141.97L569.72 141.12L570.26 140.86L570.80 140.75L571.34 141.37L571.88 140.87L572.42 140.30L572.96 140.92L573.50 141.58L574.04 141.01L574.58 141.19L575.12 140.90L575.66 141.08L576.20 141.24L576.74 140.22L577.28 141.40L577.82 141.06L578.36 141.41L578.90 141.50L579.44 140.65L579.98 141.46L580.52 140.90L581.06 140.39L581.60 140.82L582.14 141.77L582.68 141.89L583.22 140.13L583.76 140.24L584.30 140.49L584.84 140.31L585.38 140.02L585.92 140.03L586.46 139.79L587.00 140.86L587.54 140.72L588.08 140.08L588.62 140.34L589.16 141.04L589.70 140.49L590.24 140.92L590.78 140.00L591.32 139.98L591.86 141.34L592.40 140.76L592.94 139.86L593.48 140.72L594.02 140.30L594.56 140.69L595.10 140.33L595.64 139.47L596.18 140.59L596.72 140.25L597.26 139.38L597.80 140.27L598.34 140.13L598.88 141.03L599.42 140.93L599.96 140.44L600.50 139.28L601.04 138.73L601.58 139.13L602.12 138.64L602.66 139.17L603.20 139.81L603.74 139.80L604.28 140.23L604.82 140.16L605.36 139.86L605.90 139.30L606.44 138.84L606.98 138.81L607.52 138.91L608.06 139.51L608.60 139.03L609.14 138.49L609.68 138.16L610.22 137.95L610.76 137.90L611.30 139.17L611.84 139.33L612.38 138.95L612.92 138.91L613.46 138.48L614.00 137.92L614.54 137.47L615.08 137.95L615.62 138.40L616.16 138.77L616.70 138.10L617.24 138.29L617.78 137.56L618.32 137.86L618.86 137.69L619.40 137.91L619.94 137.06L620.48 137.42L621.02 137.47L621.56 137.30L622.10 137.88L622.64 137.90L623.18 137.97L623.72 138.35L624.26 137.35L624.80 137.68L625.34 136.58L625.88 136.81L626.42 136.40L626.96 136.36L627.50 136.89L628.04 137.35L628.58 137.35L629.12 137.51L629.66 137.49L630.20 136.99L630.74 137.06L631.28 136.69L631.82 136.14L632.36 136.77L632.90 136.40L633.44 135.58L633.98 135.25L634.52 135.90L635.06 135.98L635.60 135.85L636.14 136.05L636.68 135.80L637.22 135.61L637.76 135.17L638.30 135.64L638.84 136.25L639.38 135.46L639.92 135.12L640.46 135.55L641.00 135.72L641.54 135.81L642.08 135.22L642.62 135.25L643.16 134.89L643.70 135.09L644.24 134.47L644.78 134.82L645.32 134.17L645.86 135.38L646.40 134.31L646.94 134.52L647.48 135.11L648.02 134.70L648.56 134.82L649.10 134.09L649.64 134.62L650.18 134.99L650.72 135.09L651.26 134.41L651.80 134.88L652.34 134.59L652.88 134.29L653.42 133.80L653.96 134.19L654.50 134.22L655.04 133.73L655.58 133.36L656.12 133.54L656.66 132.92L657.20 133.69L657.74 133.97L658.28 134.17L658.82 133.57L659.36 134.52L659.90 134.14L660.44 134.32L660.98 134.04L661.52 134.03L662.06 133.17L662.60 133.70L663.14 133.09L663.68 132.30L664.22 132.53L664.76 133.32L665.30 133.34L665.84 133.09L666.38 132.32L666.92 132.92L667.46 132.79L668.00 132.18L668.54 132.51L669.08 132.07L669.62 131.62L670.16 131.88L670.70 132.01L671.24 131.36L671.78 132.32L672.32 131.63L672.86 131.73L673.40 131.26L673.94 130.95L674.48 130.88L675.02 130.58L675.56 130.66L676.10 130.87L676.64 130.20L677.18 130.67L677.72 130.88L678.26 130.49L678.80 130.65L679.34 130.62L679.88 130.76L680.42 130.44L680.96 129.97L681.50 129.61L682.04 129.59L682.58 129.57L683.12 129.89L683.66 129.35L684.20 129.13L684.74 129.06L685.28 129.81L685.82 130.36L686.36 129.38L686.90 128.58L687.44 128.10L687.98 128.51L688.52 128.74L689.06 128.81L689.60 128.56L690.14 128.59L690.68 128.69L691.22 129.52L691.76 128.94L692.30 128.81L692.84 128.22L693.38 128.18L693.92 128.16L694.46 129.03L695.00 127.98L695.54 127.69L696.08 127.27L696.62 127.56L697.16 127.53L697.70 126.94L698.24 127.21L698.78 127.29L699.32 127.20L699.86 126.95L700.40 127.27L700.94 127.11L701.48 127.00L702.02 126.89L702.56 126.50L703.10 126.46L703.64 126.48L704.18 126.14L704.72 126.54L705.26 125.85L705.80 126.30L706.34 125.92L706.88 125.61L707.42 125.74L707.96 125.67L708.50 126.04L709.04 125.42L709.58 125.04L710.12 125.34L710.66 126.12L711.20 125.18L711.74 125.71L712.28 126.34L712.82 125.42L713.36 125.72L713.90 125.23L714.44 124.78L714.98 124.59L715.52 124.45L716.06 124.07L716.60 124.24L717.14 124.03L717.68 124.99L718.22 125.14L718.76 124.52L719.30 124.19L719.84 124.44L720.38 124.98L720.92 124.89L721.46 124.63L722.00 124.70" stroke="#000000" stroke-width="2" fill="none" stroke-linejoin="round" stroke-linecap="round"/>
<path d="M74.00 274.00L74.54 273.74L75.08 273.61L75.62 273.69L76.16 273.76L76.70 273.84L77.24 273.77L77.78 274.05L78.32 273.79L78.86 273.71L79.40 273.52L79.94 273.31L80.48 273.26L81.02 273.35L81.56 272.98L82.10 272.58L82.64 272.49L83.18 272.59L83.72 272.17L84.26 272.01L84.80 271.92L85.34 271.50L85.88 270.63L86.42 270.35L86.96 269.80L87.50 269.33L88.04 268.67L88.58 268.32L89.12 267.96L89.66 267.30L90.20 266.56L90.74 265.89L91.28 265.65L91.82 264.80L92.36 263.89L92.90 263.27L93.44 262.29L93.98 261.48L94.52 260.58L95.06 260.04L95.60 259.41L96.14 259.07L96.68 258.39L97.22 257.74L97.76 257.09L98.30 256.81L98.84 256.24L99.38 255.85L99.92 255.37L100.46 255.28L101.00 254.61L101.54 254.01L102.08 253.80L102.62 253.45L103.16 253.07L103.70 252.91L104.24 252.63L104.78 252.30L105.32 252.20L105.86 251.60L106.40 251.47L106.94 251.01L107.48 250.86L108.02 250.20L108.56 250.12L109.10 250.19L109.64 250.19L110.18 249.93L110.72 249.54L111.26 249.59L111.80 249.62L112.34 248.98L112.88 248.90L113.42 248.82L113.96 248.64L114.50 248.08L115.04 247.93L115.58 247.51L116.12 246.84L116.66 246.24L117.20 245.45L117.74 244.33L118.28 243.58L118.82 242.27L119.36 241.65L119.90 240.22L120.44 239.32L120.98 237.81L121.52 236.68L122.06 235.49L122.60 233.97L123.14 232.78L123.68 231.24L124.22 229.89L124.76 228.63L125.30 227.24L125.84 225.80L126.38 224.22L126.92 222.67L127.46 220.68L128.00 218.26L128.54 215.68L129.08 212.91L129.62 209.96L130.16 206.33L130.70 202.61L131.24 198.11L131.78 192.49L132.32 186.95L132.86 182.86L133.40 180.21L133.94 177.86L134.48 175.88L135.02 174.23L135.56 173.02L136.10 171.70L136.64 170.25L137.18 169.33L137.72 167.92L138.26 167.01L138.80 166.56L139.34 165.88L139.88 164.82L140.42 164.38L140.96 163.93L141.50 163.83L142.04 163.51L142.58 163.37L143.12 163.05L143.66 162.76L144.20 162.23L144.74 161.97L145.28 161.75L145.82 161.40L146.36 161.59L146.90 161.43L147.44 160.90L147.98 161.05L148.52 160.75L149.06 160.82L149.60 160.58L150.14 160.33L150.68 160.16L151.22 159.98L151.76 159.99L152.30 159.83L152.84 160.06L153.38 159.91L153.92 159.93L154.46 160.03L155.00 159.76L155.54 159.57L156.08 160.11L156.62 159.70L157.16 159.69L157.70 159.94L158.24 160.04L158.78 159.95L159.32 159.76L159.86 160.13L160.40 160.19L160.94 160.10L161.48 160.06L162.02 160.24L162.56 160.39L163.10 160.26L163.64 160.19L164.18 160.29L164.72 159.77L165.26 160.28L165.80 160.00L166.34 160.06L166.88 160.23L167.42 160.18L167.96 160.41L168.50 160.63L169.04 160.42L169.58 160.43L170.12 160.41L170.66 160.51L171.20 160.33L171.74 160.22L172.28 160.13L172.82 160.15L173.36 160.31L173.90 159.98L174.44 160.16L174.98 160.05L175.52 159.96L176.06 159.62L176.60 159.60L177.14 159.94L177.68 159.77L178.22 160.06L178.76 159.71L179.30 159.46L179.84 159.62L180.38 159.43L180.92 159.60L181.46 159.76L182.00 159.70L182.54 159.58L183.08 159.32L183.62 159.46L184.16 159.50L184.70 159.36L185.24 159.30L185.78 159.18L186.32 159.27L186.86 159.26L187.40 159.20L187.94 159.29L188.48 159.35L189.02 159.33L189.56 159.27L190.10 159.19L190.64 159.35L191.18 159.28L191.72 159.44L192.26 159.42L192.80 159.63L193.34 159.41L193.88 159.31L194.42 159.37L194.96 159.38L195.50 159.33L196.04 159.33L196.58 159.45L197.12 159.39L197.66 159.12L198.20 159.10L198.74 159.53L199.28 159.34L199.82 159.35L200.36 159.34L200.90 159.34L201.44 159.40L201.98 159.64L202.52 159.57L203.06 159.47L203.60 159.52L204.14 159.64L204.68 159.32L205.22 159.77L205.76 159.46L206.30 159.61L206.84 159.90L207.38 159.95L207.92 160.04L208.46 160.01L209.00 159.83L209.54 160.22L210.08 160.26L210.62 160.30L211.16 160.23L211.70 160.16L212.24 160.14L212.78 160.14L213.32 160.35L213.86 160.17L214.40 160.50L214.94 160.24L215.48 160.05L216.02 160.15L216.56 160.32L217.10 160.33L217.64 160.46L218.18 160.42L218.72 160.39L219.26 160.45L219.80 160.36L220.34 160.40L220.88 160.50L221.42 160.29L221.96 160.85L222.50 160.46L223.04 160.62L223.58 160.84L224.12 160.89L224.66 161.12L225.20 161.10L225.74 160.97L226.28 161.08L226.82 161.26L227.36 161.46L227.90 161.28L228.44 161.39L228.98 161.33L229.52 161.09L230.06 160.84L230.60 160.98L231.14 161.00L231.68 160.94L232.22 161.18L232.76 161.48L233.30 161.59L233.84 161.33L234.38 161.32L234.92 161.23L235.46 161.42L236.00 161.52L236.54 161.62L237.08 161.64L237.62 161.98L238.16 161.96L238.70 161.95L239.24 161.99L239.78 162.34L240.32 162.19L240.86 162.31L241.40 162.12L241.94 162.40L242.48 162.39L243.02 162.09L243.56 162.49L244.10 162.26L244.64 162.23L245.18 162.54L245.72 162.73L246.26 162.73L246.80 162.74L247.34 162.73L247.88 162.80L248.42 162.78L248.96 162.74L249.50 163.12L250.04 163.06L250.58 163.34L251.12 163.48L251.66 163.53L252.20 163.49L252.74 163.22L253.28 163.17L253.82 163.16L254.36 163.22L254.90 163.51L255.44 163.32L255.98 163.61L256.52 163.86L257.06 163.89L257.60 164.01L258.14 163.45L258.68 163.70L259.22 163.91L259.76 164.00L260.30 164.07L260.84 164.08L261.38 164.08L261.92 164.14L262.46 164.39L263.00 164.16L263.54 164.21L264.08 164.48L264.62 164.44L265.16 164.47L265.70 164.32L266.24 164.33L266.78 164.56L267.32 164.24L267.86 164.35L268.40 164.66L268.94 164.81L269.48 164.92L270.02 165.05L270.56 164.73L271.10 164.61L271.64 164.83L272.18 164.79L272.72 164.71L273.26 164.98L273.80 165.24L274.34 165.42L274.88 165.44L275.42 165.39L275.96 165.77L276.50 165.61L277.04 165.55L277.58 165.55L278.12 165.65L278.66 165.71L279.20 165.85L279.74 165.77L280.28 165.97L280.82 166.17L281.36 166.25L281.90 166.22L282.44 166.17L282.98 166.55L283.52 166.46L284.06 166.73L284.60 166.79L285.14 166.39L285.68 166.69L286.22 166.70L286.76 166.54L287.30 166.79L287.84 166.93L288.38 166.97L288.92 167.10L289.46 167.03L290.00 167.04L290.54 167.38L291.08 167.34L291.62 167.10L292.16 166.80L292.70 166.96L293.24 166.93L293.78 167.03L294.32 167.36L294.86 167.37L295.40 167.39L295.94 167.48L296.48 167.93L297.02 168.08L297.56 167.99L298.10 167.85L298.64 167.97L299.18 167.76L299.72 167.67L300.26 167.88L300.80 167.90L301.34 167.98L301.88 168.13L302.42 168.22L302.96 168.40L303.50 168.25L304.04 168.37L304.58 168.50L305.12 168.69L305.66 168.67L306.20 168.49L306.74 168.26L307.28 168.47L307.82 168.40L308.36 168.62L308.90 168.80L309.44 168.73L309.98 168.95L310.52 169.13L311.06 168.95L311.60 169.05L312.14 169.10L312.68 168.90L313.22 168.99L313.76 169.29L314.30 169.40L314.84 169.61L315.38 169.40L315.92 169.47L316.46 169.46L317.00 169.55L317.54 169.61L318.08 169.80L318.62 169.96L319.16 170.07L319.70 169.98L320.24 170.12L320.78 170.03L321.32 170.17L321.86 170.48L322.40 170.68L322.94 170.60L323.48 170.32L324.02 170.51L324.56 170.87L325.10 170.89L325.64 170.88L326.18 170.84L326.72 170.78L327.26 170.60L327.80 170.71L328.34 170.68L328.88 170.95L329.42 171.16L329.96 171.09L330.50 170.99L331.04 170.97L331.58 171.10L332.12 171.34L332.66 171.39L333.20 170.94L333.74 171.13L334.28 171.68L334.82 171.64L335.36 171.66L335.90 171.72L336.44 171.58L336.98 171.34L337.52 171.75L338.06 171.45L338.60 171.80L339.14 171.88L339.68 171.96L340.22 171.76L340.76 172.01L341.30 171.92L341.84 171.91L342.38 171.97L342.92 172.13L343.46 172.17L344.00 172.34L344.54 172.65L345.08 172.72L345.62 172.57L346.16 172.83L346.70 172.72L347.24 172.67L347.78 173.09L348.32 173.08L348.86 172.89L349.40 173.19L349.94 173.28L350.48 173.44L351.02 173.50L351.56 173.24L352.10 173.31L352.64 173.69L353.18 173.55L353.72 173.56L354.26 173.58L354.80 173.61L355.34 173.87L355.88 174.01L356.42 174.07L356.96 174.13L357.50 174.09L358.04 174.34L358.58 174.60L359.12 174.67L359.66 174.47L360.20 174.64L360.74 174.70L361.28 174.70L361.82 174.57L362.36 174.67L362.90 174.87L363.44 174.90L363.98 174.88L364.52 175.03L365.06 175.12L365.60 175.08L366.14 175.36L366.68 175.54L367.22 175.61L367.76 175.38L368.30 175.76L368.84 175.91L369.38 175.59L369.92 175.69L370.46 176.01L371.00 176.17L371.54 175.66L372.08 175.78L372.62 175.82L373.16 175.94L373.70 176.11L374.24 176.43L374.78 176.42L375.32 176.46L375.86 176.29L376.40 176.53L376.94 176.59L377.48 176.56L378.02 176.70L378.56 176.64L379.10 176.45L379.64 176.44L380.18 176.92L380.72 176.96L381.26 177.00L381.80 177.40L382.34 177.10L382.88 177.06L383.42 177.03L383.96 176.95L384.50 177.16L385.04 177.20L385.58 177.34L386.12 176.92L386.66 177.30L387.20 177.53L387.74 177.70L388.28 177.56L388.82 177.64L389.36 177.48L389.90 177.24L390.44 177.85L390.98 177.85L391.52 177.84L392.06 178.01L392.60 177.72L393.14 177.69L393.68 178.13L394.22 178.15L394.76 178.44L395.30 178.31L395.84 178.51L396.38 178.31L396.92 178.28L397.46 178.19L398.00 178.32L398.54 178.28L399.08 178.11L399.62 178.08L400.16 178.36L400.70 178.20L401.24 178.27L401.78 178.19L402.32 178.42L402.86 178.42L403.40 178.73L403.94 178.68L404.48 178.79L405.02 178.53L405.56 178.72L406.10 178.31L406.64 178.71L407.18 178.74L407.72 178.94L408.26 178.56L408.80 178.68L409.34 178.47L409.88 178.63L410.42 178.68L410.96 178.63L411.50 178.52L412.04 178.88L412.58 179.08L413.12 179.01L413.66 179.19L414.20 179.14L414.74 179.07L415.28 179.01L415.82 179.28L416.36 179.10L416.90 179.17L417.44 179.15L417.98 179.03L418.52 179.21L419.06 178.97L419.60 179.15L420.14 178.76L420.68 178.80L421.22 178.93L421.76 179.13L422.30 179.36L422.84 179.16L423.38 179.22L423.92 179.14L424.46 179.26L425.00 179.47L425.54 179.72L426.08 179.64L426.62 179.60L427.16 179.24L427.70 179.34L428.24 179.22L428.78 179.24L429.32 179.50L429.86 179.40L430.40 179.29L430.94 179.14L431.48 179.24L432.02 179.29L432.56 179.59L433.10 179.36L433.64 179.52L434.18 179.74L434.72 179.48L435.26 179.08L435.80 179.19L436.34 179.59L436.88 179.47L437.42 179.48L437.96 179.68L438.50 179.56L439.04 179.08L439.58 179.54L440.12 179.27L440.66 179.47L441.20 179.55L441.74 179.54L442.28 179.20L442.82 179.49L443.36 179.39L443.90 178.95L444.44 179.04L444.98 179.08L445.52 179.32L446.06 179.07L446.60 178.92L447.14 179.22L447.68 179.56L448.22 179.52L448.76 179.31L449.30 179.26L449.84 179.28L450.38 179.32L450.92 179.49L451.46 179.25L452.00 179.52L452.54 179.72L453.08 179.53L453.62 179.71L454.16 179.59L454.70 179.47L455.24 179.69L455.78 179.35L456.32 179.66L456.86 179.28L457.40 179.31L457.94 179.44L458.48 179.29L459.02 179.24L459.56 179.03L460.10 179.15L460.64 179.36L461.18 179.29L461.72 179.44L462.26 179.27L462.80 179.33L463.34 179.20L463.88 179.47L464.42 179.17L464.96 179.16L465.50 179.28L466.04 178.87L466.58 179.20L467.12 179.20L467.66 179.13L468.20 179.12L468.74 179.15L469.28 178.96L469.82 178.99L470.36 178.73L470.90 178.73L471.44 178.87L471.98 178.76L472.52 178.95L473.06 178.69L473.60 178.57L474.14 178.62L474.68 178.51L475.22 178.86L475.76 178.96L476.30 178.37L476.84 178.58L477.38 178.52L477.92 178.52L478.46 178.37L479.00 178.51L479.54 178.49L480.08 178.59L480.62 178.32L481.16 178.10L481.70 178.14L482.24 177.97L482.78 178.01L483.32 178.36L483.86 178.25L484.40 178.24L484.94 178.47L485.48 178.56L486.02 178.28L486.56 178.09L487.10 178.04L487.64 177.86L488.18 178.04L488.72 177.97L489.26 177.90L489.80 177.86L490.34 177.72L490.88 177.85L491.42 177.50L491.96 177.48L492.50 177.26L493.04 177.23L493.58 177.19L494.12 177.32L494.66 177.33L495.20 177.66L495.74 177.57L496.28 177.42L496.82 177.32L497.36 177.14L497.90 177.25L498.44 177.42L498.98 177.58L499.52 177.67L500.06 177.33L500.60 177.03L501.14 177.17L501.68 177.13L502.22 177.14L502.76 177.27L503.30 177.23L503.84 177.13L504.38 176.99L504.92 176.66L505.46 176.77L506.00 176.66L506.54 176.68L507.08 176.57L507.62 176.75L508.16 176.42L508.70 176.46L509.24 176.45L509.78 176.60L510.32 176.64L510.86 176.59L511.40 176.23L511.94 175.96L512.48 176.15L513.02 176.09L513.56 176.23L514.10 176.17L514.64 176.01L515.18 175.92L515.72 175.96L516.26 175.79L516.80 175.85L517.34 175.58L517.88 175.51L518.42 175.71L518.96 175.59L519.50 175.59L520.04 175.38L520.58 175.22L521.12 175.30L521.66 175.22L522.20 175.35L522.74 175.19L523.28 175.18L523.82 175.30L524.36 175.02L524.90 175.16L525.44 175.10L525.98 174.96L526.52 175.02L527.06 175.24L527.60 175.00L528.14 174.87L528.68 174.82L529.22 174.58L529.76 174.45L530.30 174.47L530.84 174.60L531.38 174.83L531.92 174.57L532.46 174.40L533.00 174.47L533.54 174.35L534.08 174.51L534.62 174.48L535.16 174.35L535.70 174.34L536.24 174.24L536.78 173.98L537.32 173.91L537.86 173.98L538.40 174.13L538.94 174.14L539.48 174.38L540.02 174.97L540.56 174.78L541.10 174.45L541.64 174.11L542.18 173.50L542.72 172.68L543.26 172.65L543.80 173.54L544.34 174.06L544.88 173.38L545.42 173.12L545.96 173.95L546.50 173.45L547.04 173.91L547.58 173.37L548.12 172.37L548.66 173.04L549.20 172.43L549.74 173.02L550.28 172.93L550.82 173.12L551.36 172.72L551.90 172.81L552.44 172.95L552.98 172.25L553.52 172.72L554.06 172.70L554.60 173.45L555.14 173.45L555.68 173.28L556.22 173.14L556.76 172.95L557.30 173.31L557.84 172.63L558.38 172.68L558.92 172.61L559.46 171.89L560.00 172.43L560.54 172.57L561.08 171.99L561.62 172.35L562.16 171.87L562.70 172.10L563.24 171.95L563.78 172.72L564.32 172.32L564.86 171.94L565.40 172.19L565.94 172.15L566.48 172.18L567.02 172.50L567.56 172.39L568.10 172.31L568.64 172.53L569.18 172.63L569.72 171.13L570.26 171.35L570.80 171.48L571.34 171.52L571.88 172.11L572.42 172.30L572.96 172.06L573.50 171.57L574.04 171.70L574.58 171.10L575.12 171.47L575.66 170.72L576.20 171.94L576.74 171.10L577.28 171.37L577.82 170.93L578.36 171.33L578.90 170.68L579.44 171.16L579.98 171.28L580.52 171.65L581.06 171.85L581.60 170.57L582.14 171.22L582.68 171.56L583.22 170.79L583.76 170.31L584.30 171.03L584.84 170.56L585.38 170.05L585.92 169.65L586.46 169.93L587.00 170.17L587.54 171.12L588.08 170.99L588.62 171.37L589.16 170.82L589.70 170.37L590.24 170.56L590.78 170.64L591.32 170.22L591.86 170.23L592.40 170.29L592.94 170.60L593.48 170.42L594.02 170.41L594.56 169.88L595.10 169.56L595.64 170.09L596.18 169.86L596.72 170.14L597.26 169.30L597.80 170.21L598.34 170.41L598.88 169.64L599.42 170.07L599.96 169.42L600.50 170.18L601.04 169.81L601.58 170.55L602.12 169.61L602.66 169.95L603.20 169.53L603.74 169.85L604.28 169.72L604.82 168.89L605.36 169.33L605.90 169.84L606.44 169.46L606.98 169.38L607.52 169.01L608.06 169.17L608.60 168.78L609.14 168.28L609.68 168.70L610.22 168.39L610.76 168.39L611.30 168.92L611.84 168.84L612.38 168.43L612.92 167.71L613.46 167.63L614.00 167.82L614.54 167.60L615.08 167.91L615.62 167.15L616.16 167.99L616.70 167.75L617.24 167.88L617.78 167.77L618.32 168.07L618.86 167.53L619.40 167.85L619.94 167.18L620.48 168.11L621.02 167.73L621.56 167.93L622.10 167.87L622.64 167.03L623.18 167.64L623.72 167.19L624.26 166.80L624.80 166.81L625.34 167.36L625.88 166.47L626.42 167.26L626.96 167.96L627.50 167.04L628.04 167.06L628.58 166.98L629.12 166.11L629.66 166.31L630.20 165.98L630.74 165.95L631.28 165.37L631.82 165.56L632.36 165.92L632.90 166.36L633.44 166.02L633.98 165.42L634.52 166.11L635.06 165.63L635.60 165.54L636.14 166.21L636.68 166.32L637.22 166.04L637.76 165.56L638.30 165.42L638.84 165.64L639.38 165.11L639.92 165.49L640.46 165.50L641.00 165.41L641.54 165.14L642.08 165.76L642.62 165.42L643.16 164.73L643.70 164.48L644.24 164.58L644.78 164.93L645.32 164.52L645.86 164.70L646.40 164.34L646.94 163.71L647.48 163.99L648.02 164.36L648.56 164.73L649.10 164.02L649.64 163.28L650.18 164.11L650.72 163.54L651.26 163.72L651.80 164.12L652.34 163.91L652.88 164.17L653.42 163.47L653.96 163.47L654.50 163.80L655.04 163.55L655.58 162.91L656.12 163.51L656.66 163.21L657.20 163.48L657.74 163.55L658.28 163.08L658.82 163.44L659.36 163.34L659.90 163.89L660.44 162.41L660.98 162.32L661.52 162.99L662.06 162.52L662.60 163.23L663.14 162.29L663.68 162.22L664.22 162.27L664.76 162.25L665.30 162.21L665.84 161.66L666.38 161.19L666.92 161.69L667.46 162.27L668.00 162.27L668.54 161.99L669.08 161.87L669.62 161.77L670.16 160.93L670.70 161.31L671.24 160.94L671.78 161.35L672.32 160.74L672.86 161.17L673.40 160.66L673.94 160.77L674.48 160.81L675.02 160.60L675.56 161.15L676.10 161.12L676.64 161.27L677.18 161.53L677.72 161.66L678.26 161.54L678.80 161.22L679.34 160.67L679.88 161.41L680.42 160.56L680.96 160.26L681.50 160.66L682.04 161.13L682.58 160.50L683.12 160.77L683.66 160.37L684.20 160.56L684.74 160.95L685.28 160.97L685.82 160.58L686.36 160.46L686.90 160.66L687.44 160.21L687.98 159.71L688.52 159.37L689.06 158.71L689.60 159.68L690.14 159.00L690.68 159.75L691.22 159.13L691.76 158.27L692.30 158.47L692.84 158.72L693.38 159.14L693.92 159.22L694.46 158.91L695.00 158.37L695.54 158.60L696.08 158.29L696.62 158.06L697.16 158.36L697.70 158.74L698.24 159.56L698.78 158.60L699.32 158.01L699.86 157.57L700.40 157.33L700.94 157.58L701.48 158.02L702.02 157.86L702.56 158.47L703.10 158.67L703.64 157.70L704.18 157.22L704.72 157.14L705.26 157.39L705.80 157.07L706.34 156.72L706.88 156.99L707.42 157.65L707.96 157.60L708.50 156.94L709.04 156.79L709.58 156.86L710.12 156.03L710.66 156.05L711.20 156.58L711.74 156.83L712.28 156.23L712.82 155.95L713.36 155.82L713.90 155.15L714.44 156.53L714.98 155.98L715.52 155.70L716.06 156.22L716.60 155.78L717.14 155.92L717.68 155.46L718.22 154.40L718.76 154.33L719.30 155.34L719.84 154.99L720.38 155.14L720.92 154.71L721.46 155.37L722.00 155.91" stroke="#4472c4" stroke-width="2" fill="none" stroke-linejoin="round" stroke-linecap="round"/>
<path d="M74.00 274.00L74.54 274.25L75.08 274.33L75.62 273.78L76.16 273.52L76.70 273.33L77.24 273.88L77.78 273.74L78.32 273.58L78.86 273.57L79.40 273.20L79.94 273.12L80.48 272.77L81.02 272.77L81.56 272.23L82.10 272.01L82.64 271.79L83.18 271.21L83.72 270.90L84.26 270.11L84.80 269.49L85.34 269.20L85.88 268.69L86.42 267.91L86.96 267.42L87.50 267.18L88.04 266.35L88.58 265.75L89.12 264.98L89.66 264.29L90.20 263.55L90.74 262.78L91.28 261.92L91.82 261.10L92.36 260.16L92.90 259.21L93.44 258.17L93.98 256.85L94.52 256.08L95.06 255.22L95.60 254.35L96.14 253.25L96.68 252.75L97.22 251.51L97.76 250.90L98.30 250.01L98.84 249.26L99.38 248.51L99.92 247.91L100.46 247.03L101.00 246.08L101.54 245.24L102.08 244.09L102.62 243.07L103.16 241.98L103.70 241.12L104.24 240.37L104.78 239.28L105.32 238.29L105.86 237.22L106.40 236.70L106.94 235.69L107.48 234.91L108.02 234.01L108.56 233.33L109.10 232.17L109.64 231.63L110.18 230.87L110.72 230.54L111.26 229.95L111.80 229.17L112.34 228.46L112.88 227.86L113.42 227.67L113.96 227.14L114.50 227.17L115.04 226.47L115.58 226.06L116.12 225.64L116.66 225.22L117.20 225.26L117.74 224.91L118.28 225.02L118.82 224.75L119.36 224.16L119.90 224.01L120.44 224.03L120.98 224.21L121.52 223.86L122.06 223.65L122.60 223.22L123.14 223.45L123.68 222.74L124.22 222.75L124.76 222.52L125.30 222.28L125.84 222.01L126.38 221.73L126.92 221.13L127.46 220.23L128.00 220.17L128.54 219.37L129.08 218.90L129.62 218.01L130.16 217.34L130.70 216.37L131.24 215.32L131.78 214.55L132.32 212.96L132.86 212.05L133.40 211.05L133.94 209.94L134.48 208.46L135.02 206.66L135.56 205.32L136.10 203.33L136.64 201.23L137.18 198.46L137.72 195.46L138.26 192.97L138.80 190.17L139.34 186.97L139.88 184.11L140.42 182.42L140.96 180.79L141.50 178.48L142.04 176.76L142.58 174.94L143.12 173.48L143.66 172.82L144.20 171.34L144.74 170.01L145.28 168.98L145.82 167.96L146.36 167.67L146.90 167.63L147.44 167.36L147.98 166.73L148.52 166.32L149.06 166.48L149.60 167.21L150.14 167.59L150.68 167.41L151.22 167.42L151.76 167.16L152.30 166.61L152.84 165.05L153.38 163.28L153.92 161.94L154.46 161.58L155.00 161.24L155.54 161.26L156.08 161.50L156.62 161.43L157.16 161.21L157.70 160.92L158.24 160.86L158.78 160.75L159.32 160.81L159.86 160.72L160.40 160.75L160.94 160.61L161.48 160.38L162.02 160.69L162.56 160.37L163.10 160.22L163.64 160.20L164.18 160.19L164.72 160.36L165.26 160.36L165.80 160.22L166.34 160.28L166.88 160.53L167.42 160.36L167.96 160.25L168.50 160.25L169.04 160.00L169.58 160.38L170.12 160.34L170.66 160.05L171.20 160.04L171.74 159.64L172.28 159.79L172.82 159.78L173.36 159.82L173.90 159.67L174.44 159.82L174.98 159.59L175.52 159.76L176.06 159.59L176.60 159.29L177.14 159.33L177.68 159.65L178.22 159.29L178.76 159.19L179.30 159.33L179.84 159.18L180.38 159.18L180.92 159.11L181.46 159.27L182.00 159.20L182.54 159.36L183.08 159.01L183.62 159.28L184.16 159.30L184.70 159.21L185.24 159.19L185.78 159.04L186.32 158.90L186.86 159.22L187.40 159.09L187.94 158.87L188.48 159.00L189.02 159.03L189.56 159.13L190.10 158.99L190.64 158.86L191.18 158.78L191.72 158.75L192.26 158.99L192.80 159.07L193.34 159.17L193.88 159.16L194.42 159.02L194.96 159.37L195.50 159.18L196.04 158.88L196.58 159.11L197.12 159.06L197.66 159.05L198.20 159.07L198.74 159.17L199.28 159.00L199.82 159.04L200.36 159.14L200.90 159.37L201.44 159.18L201.98 159.14L202.52 159.39L203.06 159.43L203.60 159.40L204.14 159.26L204.68 159.47L205.22 159.42L205.76 159.42L206.30 159.44L206.84 159.46L207.38 159.59L207.92 159.50L208.46 159.19L209.00 159.35L209.54 159.49L210.08 159.60L210.62 159.55L211.16 159.46L211.70 159.71L212.24 159.88L212.78 159.63L213.32 159.74L213.86 159.74L214.40 159.93L214.94 159.94L215.48 159.80L216.02 160.15L216.56 160.22L217.10 160.16L217.64 160.07L218.18 160.03L218.72 160.16L219.26 160.01L219.80 160.48L220.34 160.36L220.88 160.42L221.42 160.41L221.96 160.52L222.50 160.69L223.04 160.27L223.58 160.58L224.12 160.62L224.66 160.83L225.20 160.84L225.74 160.59L226.28 160.53L226.82 160.88L227.36 160.99L227.90 160.91L228.44 161.02L228.98 160.90L229.52 161.10L230.06 161.02L230.60 160.94L231.14 161.05L231.68 161.06L232.22 161.19L232.76 161.14L233.30 161.18L233.84 161.59L234.38 161.57L234.92 161.41L235.46 161.43L236.00 161.27L236.54 161.59L237.08 161.53L237.62 161.69L238.16 161.78L238.70 161.83L239.24 161.87L239.78 161.93L240.32 162.09L240.86 162.02L241.40 162.01L241.94 161.68L242.48 161.75L243.02 161.72L243.56 161.95L244.10 162.14L244.64 162.23L245.18 162.02L245.72 162.33L246.26 162.40L246.80 162.38L247.34 162.23L247.88 162.37L248.42 162.52L248.96 162.70L249.50 162.54L250.04 162.56L250.58 162.54L251.12 162.72L251.66 162.76L252.20 162.81L252.74 162.79L253.28 163.03L253.82 163.17L254.36 163.24L254.90 162.96L255.44 163.14L255.98 163.30L256.52 163.31L257.06 163.41L257.60 163.58L258.14 163.62L258.68 163.72L259.22 163.88L259.76 163.91L260.30 163.85L260.84 163.85L261.38 163.87L261.92 163.98L262.46 163.97L263.00 164.05L263.54 164.00L264.08 164.00L264.62 164.15L265.16 164.12L265.70 164.07L266.24 164.16L266.78 164.30L267.32 164.27L267.86 164.59L268.40 164.52L268.94 164.39L269.48 164.88L270.02 164.70L270.56 164.96L271.10 164.94L271.64 164.93L272.18 164.79L272.72 164.87L273.26 164.81L273.80 165.03L274.34 165.03L274.88 165.08L275.42 165.45L275.96 165.18L276.50 165.06L277.04 165.14L277.58 165.36L278.12 165.65L278.66 165.50L279.20 165.66L279.74 165.53L280.28 165.60L280.82 165.40L281.36 165.40L281.90 165.76L282.44 165.98L282.98 166.09L283.52 166.10L284.06 165.68L284.60 165.81L285.14 165.79L285.68 166.02L286.22 166.12L286.76 166.36L287.30 166.60L287.84 166.67L288.38 166.62L288.92 166.81L289.46 166.65L290.00 166.79L290.54 166.66L291.08 166.77L291.62 166.94L292.16 166.97L292.70 166.84L293.24 166.95L293.78 167.15L294.32 167.26L294.86 167.46L295.40 167.49L295.94 167.44L296.48 167.16L297.02 167.23L297.56 167.19L298.10 167.61L298.64 167.56L299.18 167.42L299.72 167.58L300.26 167.68L300.80 167.84L301.34 167.92L301.88 168.01L302.42 167.99L302.96 168.07L303.50 167.84L304.04 167.79L304.58 167.99L305.12 168.10L305.66 168.02L306.20 168.39L306.74 168.44L307.28 168.42L307.82 168.55L308.36 168.70L308.90 168.45L309.44 168.73L309.98 168.80L310.52 168.93L311.06 169.02L311.60 168.84L312.14 169.13L312.68 169.24L313.22 169.40L313.76 169.16L314.30 169.30L314.84 169.20L315.38 169.14L315.92 169.49L316.46 169.40L317.00 169.55L317.54 169.56L318.08 169.75L318.62 169.67L319.16 169.79L319.70 169.93L320.24 169.49L320.78 169.71L321.32 169.68L321.86 170.11L322.40 170.21L322.94 170.19L323.48 170.32L324.02 170.33L324.56 170.22L325.10 170.52L325.64 170.71L326.18 170.72L326.72 170.75L327.26 170.65L327.80 170.57L328.34 170.75L328.88 170.64L329.42 170.70L329.96 170.72L330.50 170.66L331.04 170.88L331.58 170.92L332.12 170.96L332.66 171.26L333.20 171.10L333.74 170.99L334.28 171.02L334.82 171.22L335.36 171.47L335.90 171.44L336.44 171.29L336.98 171.15L337.52 171.31L338.06 171.67L338.60 171.71L339.14 171.58L339.68 171.72L340.22 171.68L340.76 171.75L341.30 171.97L341.84 172.11L342.38 172.13L342.92 172.01L343.46 172.18L344.00 172.19L344.54 172.14L345.08 172.11L345.62 172.23L346.16 172.38L346.70 172.45L347.24 172.19L347.78 172.36L348.32 172.83L348.86 172.64L349.40 172.92L349.94 173.05L350.48 173.06L351.02 173.31L351.56 173.12L352.10 173.19L352.64 173.25L353.18 173.44L353.72 173.59L354.26 173.84L354.80 173.78L355.34 173.87L355.88 174.07L356.42 173.98L356.96 173.98L357.50 174.24L358.04 174.01L358.58 174.25L359.12 174.16L359.66 174.26L360.20 174.33L360.74 174.65L361.28 174.47L361.82 174.28L362.36 174.47L362.90 174.50L363.44 174.74L363.98 174.97L364.52 175.08L365.06 174.90L365.60 174.83L366.14 175.13L366.68 175.06L367.22 175.01L367.76 175.46L368.30 175.43L368.84 175.53L369.38 175.62L369.92 175.66L370.46 175.70L371.00 175.79L371.54 175.72L372.08 175.83L372.62 175.79L373.16 176.01L373.70 176.03L374.24 176.07L374.78 176.17L375.32 176.35L375.86 176.44L376.40 176.44L376.94 176.36L377.48 176.59L378.02 176.41L378.56 176.37L379.10 176.72L379.64 176.54L380.18 176.68L380.72 176.75L381.26 176.74L381.80 176.71L382.34 176.74L382.88 176.70L383.42 176.66L383.96 176.61L384.50 176.83L385.04 177.15L385.58 176.92L386.12 177.12L386.66 177.21L387.20 177.40L387.74 177.48L388.28 177.51L388.82 177.34L389.36 177.42L389.90 177.42L390.44 177.32L390.98 177.53L391.52 177.46L392.06 177.70L392.60 177.76L393.14 177.55L393.68 177.84L394.22 177.84L394.76 177.85L395.30 177.50L395.84 177.62L396.38 177.68L396.92 177.72L397.46 177.71L398.00 177.70L398.54 178.08L399.08 177.99L399.62 177.75L400.16 177.85L400.70 177.92L401.24 178.03L401.78 178.13L402.32 178.23L402.86 178.18L403.40 178.28L403.94 178.70L404.48 178.44L405.02 178.20L405.56 178.48L406.10 178.43L406.64 178.36L407.18 178.28L407.72 178.61L408.26 178.46L408.80 178.83L409.34 178.97L409.88 178.95L410.42 178.76L410.96 179.06L411.50 178.75L412.04 178.77L412.58 178.62L413.12 178.77L413.66 178.85L414.20 178.97L414.74 178.89L415.28 178.99L415.82 178.90L416.36 178.96L416.90 178.84L417.44 179.02L417.98 179.08L418.52 178.96L419.06 178.98L419.60 178.86L420.14 179.18L420.68 179.36L421.22 179.25L421.76 179.37L422.30 179.28L422.84 179.17L423.38 178.97L423.92 179.11L424.46 178.94L425.00 179.02L425.54 179.14L426.08 179.03L426.62 178.92L427.16 178.93L427.70 179.10L428.24 179.10L428.78 179.23L429.32 179.44L429.86 179.17L430.40 179.31L430.94 179.27L431.48 179.14L432.02 179.08L432.56 178.97L433.10 179.08L433.64 178.91L434.18 178.83L434.72 178.85L435.26 179.04L435.80 179.05L436.34 179.02L436.88 179.05L437.42 179.25L437.96 179.07L438.50 179.15L439.04 179.18L439.58 179.01L440.12 179.23L440.66 179.13L441.20 179.47L441.74 179.23L442.28 179.19L442.82 179.50L443.36 179.47L443.90 179.29L444.44 178.90L444.98 179.23L445.52 179.01L446.06 179.17L446.60 179.16L447.14 179.18L447.68 179.13L448.22 179.07L448.76 179.04L449.30 179.07L449.84 178.96L450.38 178.97L450.92 179.17L451.46 178.91L452.00 179.16L452.54 179.22L453.08 179.43L453.62 179.39L454.16 179.22L454.70 179.20L455.24 178.84L455.78 179.04L456.32 178.91L456.86 179.19L457.40 179.05L457.94 179.05L458.48 178.87L459.02 178.87L459.56 178.88L460.10 179.00L460.64 179.12L461.18 178.95L461.72 178.70L462.26 178.59L462.80 178.90L463.34 178.98L463.88 178.95L464.42 178.90L464.96 178.88L465.50 178.83L466.04 178.98L466.58 178.88L467.12 178.70L467.66 178.66L468.20 178.46L468.74 178.73L469.28 178.63L469.82 178.64L470.36 178.52L470.90 178.53L471.44 178.70L471.98 178.69L472.52 178.69L473.06 178.82L473.60 178.76L474.14 178.57L474.68 178.66L475.22 178.44L475.76 178.61L476.30 178.58L476.84 178.60L477.38 178.56L477.92 178.47L478.46 178.25L479.00 178.56L479.54 178.38L480.08 178.25L480.62 178.34L481.16 178.36L481.70 178.27L482.24 178.19L482.78 178.32L483.32 178.50L483.86 178.34L484.40 178.25L484.94 178.34L485.48 178.15L486.02 177.94L486.56 177.85L487.10 177.91L487.64 177.94L488.18 177.71L488.72 177.89L489.26 177.96L489.80 177.81L490.34 177.88L490.88 178.27L491.42 177.99L491.96 177.69L492.50 177.62L493.04 177.58L493.58 177.55L494.12 177.54L494.66 177.59L495.20 177.46L495.74 177.59L496.28 177.57L496.82 177.59L497.36 177.28L497.90 177.56L498.44 177.79L498.98 177.60L499.52 177.46L500.06 177.38L500.60 177.56L501.14 177.14L501.68 177.41L502.22 177.14L502.76 177.41L503.30 177.34L503.84 177.22L504.38 176.99L504.92 176.72L505.46 176.68L506.00 176.68L506.54 176.97L507.08 176.81L507.62 176.52L508.16 176.62L508.70 176.58L509.24 176.64L509.78 176.53L510.32 176.38L510.86 176.39L511.40 176.34L511.94 176.59L512.48 176.53L513.02 176.54L513.56 176.33L514.10 176.27L514.64 176.10L515.18 176.22L515.72 176.04L516.26 176.05L516.80 175.93L517.34 176.02L517.88 176.13L518.42 175.96L518.96 176.02L519.50 175.94L520.04 175.91L520.58 175.91L521.12 175.78L521.66 175.67L522.20 175.38L522.74 175.33L523.28 175.42L523.82 175.72L524.36 175.61L524.90 175.35L525.44 175.39L525.98 175.53L526.52 175.25L527.06 175.31L527.60 175.30L528.14 175.08L528.68 174.99L529.22 174.81L529.76 174.98L530.30 175.11L530.84 174.94L531.38 175.00L531.92 174.91L532.46 174.84L533.00 174.73L533.54 174.68L534.08 174.62L534.62 174.69L535.16 174.71L535.70 174.65L536.24 174.73L536.78 174.48L537.32 174.48L537.86 174.35L538.40 174.45L538.94 174.51L539.48 174.18L540.02 174.34L540.56 174.57L541.10 174.42L541.64 173.72L542.18 174.50L542.72 174.09L543.26 174.03L543.80 174.47L544.34 174.06L544.88 173.92L545.42 174.26L545.96 174.14L546.50 174.11L547.04 173.90L547.58 173.80L548.12 173.91L548.66 173.36L549.20 173.19L549.74 173.27L550.28 173.20L550.82 173.71L551.36 173.52L551.90 173.46L552.44 173.13L552.98 173.45L553.52 173.32L554.06 173.17L554.60 173.10L555.14 173.00L555.68 172.83L556.22 173.00L556.76 173.26L557.30 173.54L557.84 172.79L558.38 172.84L558.92 173.55L559.46 173.29L560.00 172.82L560.54 172.89L561.08 172.70L561.62 172.98L562.16 173.04L562.70 172.83L563.24 172.98L563.78 172.97L564.32 173.04L564.86 172.94L565.40 172.75L565.94 172.45L566.48 173.02L567.02 172.76L567.56 172.43L568.10 172.26L568.64 172.89L569.18 172.81L569.72 172.11L570.26 172.41L570.80 172.20L571.34 172.12L571.88 171.90L572.42 172.13L572.96 172.58L573.50 171.82L574.04 171.67L574.58 171.57L575.12 171.53L575.66 171.31L576.20 171.33L576.74 171.44L577.28 171.92L577.82 171.19L578.36 171.39L578.90 171.73L579.44 171.46L579.98 171.90L580.52 171.98L581.06 171.80L581.60 172.07L582.14 171.90L582.68 171.95L583.22 171.25L583.76 171.44L584.30 171.21L584.84 170.86L585.38 171.03L585.92 171.28L586.46 171.10L587.00 171.31L587.54 171.59L588.08 171.25L588.62 171.11L589.16 171.16L589.70 171.16L590.24 171.43L590.78 170.56L591.32 170.95L591.86 170.82L592.40 170.66L592.94 171.42L593.48 171.17L594.02 170.92L594.56 171.41L595.10 171.24L595.64 170.92L596.18 171.02L596.72 170.97L597.26 170.49L597.80 170.40L598.34 170.39L598.88 170.40L599.42 170.61L599.96 170.37L600.50 170.19L601.04 170.45L601.58 170.48L602.12 170.01L602.66 170.02L603.20 170.21L603.74 170.70L604.28 170.40L604.82 170.30L605.36 170.13L605.90 170.02L606.44 169.45L606.98 170.03L607.52 169.97L608.06 170.06L608.60 169.44L609.14 169.28L609.68 169.44L610.22 169.25L610.76 169.12L611.30 169.70L611.84 169.19L612.38 169.11L612.92 168.99L613.46 168.56L614.00 168.67L614.54 169.21L615.08 168.79L615.62 168.98L616.16 168.74L616.70 168.68L617.24 168.44L617.78 168.50L618.32 168.33L618.86 168.72L619.40 168.18L619.94 168.06L620.48 167.54L621.02 168.14L621.56 168.20L622.10 168.20L622.64 167.86L623.18 167.97L623.72 168.12L624.26 167.71L624.80 168.13L625.34 167.71L625.88 167.37L626.42 167.73L626.96 167.51L627.50 167.38L628.04 167.52L628.58 167.56L629.12 167.10L629.66 167.14L630.20 167.21L630.74 167.21L631.28 167.51L631.82 167.03L632.36 166.74L632.90 166.41L633.44 166.82L633.98 166.48L634.52 166.44L635.06 166.17L635.60 166.00L636.14 166.26L636.68 166.56L637.22 166.07L637.76 166.30L638.30 166.28L638.84 166.00L639.38 165.95L639.92 166.00L640.46 165.83L641.00 165.45L641.54 166.01L642.08 166.32L642.62 165.95L643.16 166.08L643.70 166.16L644.24 165.99L644.78 165.48L645.32 165.52L645.86 165.41L646.40 165.49L646.94 165.27L647.48 165.77L648.02 165.43L648.56 165.35L649.10 165.13L649.64 164.93L650.18 165.25L650.72 165.18L651.26 165.63L651.80 164.67L652.34 165.36L652.88 164.87L653.42 164.94L653.96 164.61L654.50 164.98L655.04 164.88L655.58 164.78L656.12 164.60L656.66 164.83L657.20 165.10L657.74 164.75L658.28 165.05L658.82 164.94L659.36 164.69L659.90 164.44L660.44 163.94L660.98 164.36L661.52 164.27L662.06 164.55L662.60 164.28L663.14 164.53L663.68 164.77L664.22 164.37L664.76 163.98L665.30 163.60L665.84 164.38L666.38 164.21L666.92 164.15L667.46 164.19L668.00 163.78L668.54 163.50L669.08 164.01L669.62 163.71L670.16 163.89L670.70 163.98L671.24 163.80L671.78 163.68L672.32 164.29L672.86 164.24L673.40 163.72L673.94 163.53L674.48 163.75L675.02 164.05L675.56 164.00L676.10 163.44L676.64 163.14L677.18 163.13L677.72 163.40L678.26 163.30L678.80 163.39L679.34 163.09L679.88 163.22L680.42 163.03L680.96 162.51L681.50 162.55L682.04 162.32L682.58 162.90L683.12 162.68L683.66 162.59L684.20 162.67L684.74 162.47L685.28 162.54L685.82 162.79L686.36 162.27L686.90 162.24L687.44 162.37L687.98 161.79L688.52 162.44L689.06 162.13L689.60 161.80L690.14 161.85L690.68 161.98L691.22 161.98L691.76 162.06L692.30 161.75L692.84 161.94L693.38 161.99L693.92 161.62L694.46 161.85L695.00 161.65L695.54 161.89L696.08 161.24L696.62 161.58L697.16 161.65L697.70 161.62L698.24 161.71L698.78 161.54L699.32 161.76L699.86 161.24L700.40 161.05L700.94 160.78L701.48 160.79L702.02 160.83L702.56 160.64L703.10 161.00L703.64 160.55L704.18 160.32L704.72 160.77L705.26 160.52L705.80 160.61L706.34 160.46L706.88 160.73L707.42 160.59L707.96 160.07L708.50 159.58L709.04 159.75L709.58 159.74L710.12 159.74L710.66 159.27L711.20 160.14L711.74 160.31L712.28 160.15L712.82 159.95L713.36 159.78L713.90 159.71L714.44 159.23L714.98 158.78L715.52 159.10L716.06 159.36L716.60 159.28L717.14 159.45L717.68 159.39L718.22 159.08L718.76 158.60L719.30 158.41L719.84 158.43L720.38 158.57L720.92 158.67L721.46 158.46L722.00 158.83" stroke="#ed7d31" stroke-width="2" fill="none" stroke-linejoin="round" stroke-linecap="round"/>
<path d="M163.5 356.9H188.6" stroke="#ff0000" stroke-width="2" stroke-linecap="round"/>
<path d="M379.2 356.9H403.59999999999997" stroke="#000000" stroke-width="2" stroke-linecap="round"/>
<path d="M163.5 380.7H188.6" stroke="#4472c4" stroke-width="2" stroke-linecap="round"/>
<path d="M379.2 380.7H403.59999999999997" stroke="#ed7d31" stroke-width="2" stroke-linecap="round"/>
<path d="M0 0H750V400H0Z M1.3 1.15H748.6V398.4H1.3Z" fill="#000" fill-rule="evenodd"/>
</svg>
</body>
</html>
